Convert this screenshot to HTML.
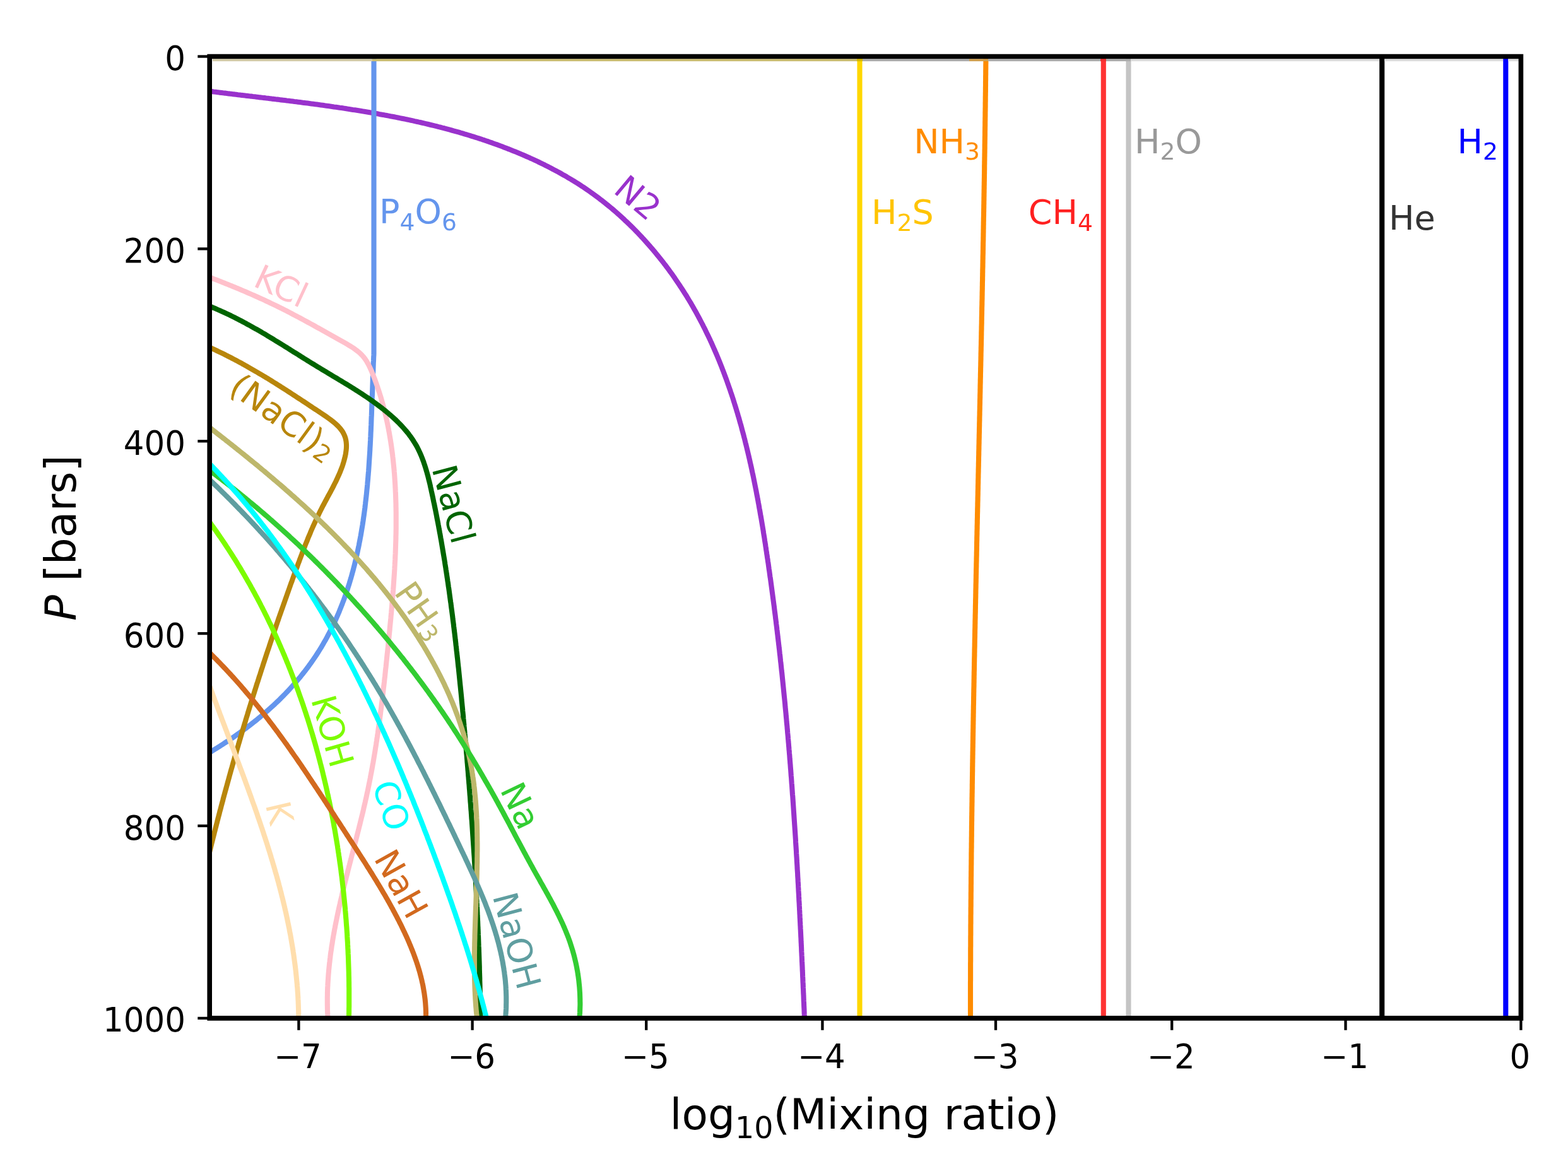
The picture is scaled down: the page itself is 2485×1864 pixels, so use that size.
<!DOCTYPE html>
<html><head><meta charset="utf-8"><title>Mixing ratio plot</title><style>html,body{margin:0;padding:0;background:#fff;overflow:hidden}svg{display:block}</style></head><body>
<svg width="2485" height="1864" viewBox="0 0 2485 1864">
<rect width="2485" height="1864" fill="#ffffff"/>
<defs><clipPath id="ax"><rect x="332.2" y="89.5" width="2078.2000000000003" height="1524.4"/></clipPath></defs>
<g clip-path="url(#ax)" fill="none" stroke-linejoin="round" stroke-linecap="butt">
<path d="M1788.5,85.0 L1788.5,1614.0" stroke="#c4c4c4" stroke-width="8.1"/>
<path d="M1748.8,85.0 L1748.8,1614.0" stroke="#ff3333" stroke-width="8.1"/>
<path d="M2190.2,85.0 L2190.2,1614.0" stroke="#000000" stroke-width="8.1"/>
<path d="M2386.3,85.0 L2386.3,1614.0" stroke="#0000ff" stroke-width="8.1"/>
<path d="M1362.5,85.0 L1362.5,1614.0" stroke="#ffd700" stroke-width="8.1"/>
<path d="M1562.5,85.0 L1562.5,88.0 L1562.4,91.0 L1562.4,94.0 L1562.4,97.0 L1562.4,100.1 L1562.3,103.1 L1562.3,106.1 L1562.3,109.1 L1562.2,112.1 L1562.2,115.1 L1562.2,118.1 L1562.1,121.1 L1562.1,124.1 L1562.1,127.1 L1562.0,130.2 L1562.0,133.2 L1562.0,136.2 L1561.9,139.2 L1561.9,142.2 L1561.9,145.2 L1561.8,148.2 L1561.8,151.2 L1561.7,154.2 L1561.7,157.2 L1561.7,160.3 L1561.6,163.3 L1561.6,166.3 L1561.6,169.3 L1561.5,172.3 L1561.5,175.3 L1561.4,178.3 L1561.4,181.3 L1561.4,184.3 L1561.3,187.3 L1561.3,190.4 L1561.2,193.4 L1561.2,196.4 L1561.2,199.4 L1561.1,202.4 L1561.1,205.4 L1561.0,208.4 L1561.0,211.4 L1561.0,214.4 L1560.9,217.4 L1560.9,220.5 L1560.8,223.5 L1560.8,226.5 L1560.7,229.5 L1560.7,232.5 L1560.7,235.5 L1560.6,238.5 L1560.6,241.5 L1560.5,244.5 L1560.5,247.5 L1560.4,250.6 L1560.4,253.6 L1560.3,256.6 L1560.3,259.6 L1560.2,262.6 L1560.2,265.6 L1560.2,268.6 L1560.1,271.6 L1560.1,274.6 L1560.0,277.6 L1560.0,280.7 L1559.9,283.7 L1559.9,286.7 L1559.8,289.7 L1559.8,292.7 L1559.7,295.7 L1559.7,298.7 L1559.6,301.7 L1559.6,304.7 L1559.5,307.7 L1559.5,310.7 L1559.4,313.8 L1559.4,316.8 L1559.3,319.8 L1559.3,322.8 L1559.2,325.8 L1559.2,328.8 L1559.1,331.8 L1559.1,334.8 L1559.0,337.8 L1559.0,340.8 L1558.9,343.9 L1558.8,346.9 L1558.8,349.9 L1558.7,352.9 L1558.7,355.9 L1558.6,358.9 L1558.6,361.9 L1558.5,364.9 L1558.5,367.9 L1558.4,370.9 L1558.4,374.0 L1558.3,377.0 L1558.3,380.0 L1558.2,383.0 L1558.1,386.0 L1558.1,389.0 L1558.0,392.0 L1558.0,395.0 L1557.9,398.0 L1557.9,401.0 L1557.8,404.1 L1557.7,407.1 L1557.7,410.1 L1557.6,413.1 L1557.6,416.1 L1557.5,419.1 L1557.5,422.1 L1557.4,425.1 L1557.3,428.1 L1557.3,431.1 L1557.2,434.1 L1557.2,437.2 L1557.1,440.2 L1557.1,443.2 L1557.0,446.2 L1556.9,449.2 L1556.9,452.2 L1556.8,455.2 L1556.8,458.2 L1556.7,461.2 L1556.6,464.2 L1556.6,467.3 L1556.5,470.3 L1556.5,473.3 L1556.4,476.3 L1556.3,479.3 L1556.3,482.3 L1556.2,485.3 L1556.1,488.3 L1556.1,491.3 L1556.0,494.3 L1556.0,497.4 L1555.9,500.4 L1555.8,503.4 L1555.8,506.4 L1555.7,509.4 L1555.7,512.4 L1555.6,515.4 L1555.5,518.4 L1555.5,521.4 L1555.4,524.4 L1555.3,527.4 L1555.3,530.5 L1555.2,533.5 L1555.2,536.5 L1555.1,539.5 L1555.0,542.5 L1555.0,545.5 L1554.9,548.5 L1554.8,551.5 L1554.8,554.5 L1554.7,557.5 L1554.6,560.6 L1554.6,563.6 L1554.5,566.6 L1554.5,569.6 L1554.4,572.6 L1554.3,575.6 L1554.3,578.6 L1554.2,581.6 L1554.1,584.6 L1554.1,587.6 L1554.0,590.7 L1553.9,593.7 L1553.9,596.7 L1553.8,599.7 L1553.7,602.7 L1553.7,605.7 L1553.6,608.7 L1553.5,611.7 L1553.5,614.7 L1553.4,617.7 L1553.4,620.7 L1553.3,623.8 L1553.2,626.8 L1553.2,629.8 L1553.1,632.8 L1553.0,635.8 L1553.0,638.8 L1552.9,641.8 L1552.8,644.8 L1552.8,647.8 L1552.7,650.8 L1552.6,653.9 L1552.6,656.9 L1552.5,659.9 L1552.4,662.9 L1552.4,665.9 L1552.3,668.9 L1552.2,671.9 L1552.2,674.9 L1552.1,677.9 L1552.0,680.9 L1552.0,683.9 L1551.9,687.0 L1551.8,690.0 L1551.8,693.0 L1551.7,696.0 L1551.6,699.0 L1551.6,702.0 L1551.5,705.0 L1551.4,708.0 L1551.4,711.0 L1551.3,714.0 L1551.2,717.1 L1551.2,720.1 L1551.1,723.1 L1551.0,726.1 L1551.0,729.1 L1550.9,732.1 L1550.8,735.1 L1550.8,738.1 L1550.7,741.1 L1550.6,744.1 L1550.6,747.1 L1550.5,750.2 L1550.4,753.2 L1550.4,756.2 L1550.3,759.2 L1550.2,762.2 L1550.2,765.2 L1550.1,768.2 L1550.0,771.2 L1550.0,774.2 L1549.9,777.2 L1549.8,780.3 L1549.8,783.3 L1549.7,786.3 L1549.6,789.3 L1549.6,792.3 L1549.5,795.3 L1549.4,798.3 L1549.4,801.3 L1549.3,804.3 L1549.2,807.3 L1549.2,810.3 L1549.1,813.4 L1549.0,816.4 L1549.0,819.4 L1548.9,822.4 L1548.8,825.4 L1548.8,828.4 L1548.7,831.4 L1548.6,834.4 L1548.6,837.4 L1548.5,840.4 L1548.4,843.5 L1548.4,846.5 L1548.3,849.5 L1548.2,852.5 L1548.2,855.5 L1548.1,858.5 L1548.0,861.5 L1548.0,864.5 L1547.9,867.5 L1547.9,870.5 L1547.8,873.6 L1547.7,876.6 L1547.7,879.6 L1547.6,882.6 L1547.5,885.6 L1547.5,888.6 L1547.4,891.6 L1547.3,894.6 L1547.3,897.6 L1547.2,900.6 L1547.1,903.6 L1547.1,906.7 L1547.0,909.7 L1546.9,912.7 L1546.9,915.7 L1546.8,918.7 L1546.8,921.7 L1546.7,924.7 L1546.6,927.7 L1546.6,930.7 L1546.5,933.7 L1546.4,936.8 L1546.4,939.8 L1546.3,942.8 L1546.3,945.8 L1546.2,948.8 L1546.1,951.8 L1546.1,954.8 L1546.0,957.8 L1545.9,960.8 L1545.9,963.8 L1545.8,966.8 L1545.8,969.9 L1545.7,972.9 L1545.6,975.9 L1545.6,978.9 L1545.5,981.9 L1545.4,984.9 L1545.4,987.9 L1545.3,990.9 L1545.3,993.9 L1545.2,996.9 L1545.1,1000.0 L1545.1,1003.0 L1545.0,1006.0 L1545.0,1009.0 L1544.9,1012.0 L1544.8,1015.0 L1544.8,1018.0 L1544.7,1021.0 L1544.7,1024.0 L1544.6,1027.0 L1544.5,1030.1 L1544.5,1033.1 L1544.4,1036.1 L1544.4,1039.1 L1544.3,1042.1 L1544.2,1045.1 L1544.2,1048.1 L1544.1,1051.1 L1544.1,1054.1 L1544.0,1057.1 L1544.0,1060.1 L1543.9,1063.2 L1543.8,1066.2 L1543.8,1069.2 L1543.7,1072.2 L1543.7,1075.2 L1543.6,1078.2 L1543.6,1081.2 L1543.5,1084.2 L1543.5,1087.2 L1543.4,1090.2 L1543.3,1093.3 L1543.3,1096.3 L1543.2,1099.3 L1543.2,1102.3 L1543.1,1105.3 L1543.1,1108.3 L1543.0,1111.3 L1543.0,1114.3 L1542.9,1117.3 L1542.8,1120.3 L1542.8,1123.4 L1542.7,1126.4 L1542.7,1129.4 L1542.6,1132.4 L1542.6,1135.4 L1542.5,1138.4 L1542.5,1141.4 L1542.4,1144.4 L1542.4,1147.4 L1542.3,1150.4 L1542.3,1153.4 L1542.2,1156.5 L1542.2,1159.5 L1542.1,1162.5 L1542.1,1165.5 L1542.0,1168.5 L1542.0,1171.5 L1541.9,1174.5 L1541.9,1177.5 L1541.8,1180.5 L1541.8,1183.5 L1541.7,1186.6 L1541.7,1189.6 L1541.6,1192.6 L1541.6,1195.6 L1541.5,1198.6 L1541.5,1201.6 L1541.4,1204.6 L1541.4,1207.6 L1541.3,1210.6 L1541.3,1213.6 L1541.2,1216.7 L1541.2,1219.7 L1541.2,1222.7 L1541.1,1225.7 L1541.1,1228.7 L1541.0,1231.7 L1541.0,1234.7 L1540.9,1237.7 L1540.9,1240.7 L1540.8,1243.7 L1540.8,1246.8 L1540.8,1249.8 L1540.7,1252.8 L1540.7,1255.8 L1540.6,1258.8 L1540.6,1261.8 L1540.5,1264.8 L1540.5,1267.8 L1540.5,1270.8 L1540.4,1273.8 L1540.4,1276.9 L1540.3,1279.9 L1540.3,1282.9 L1540.3,1285.9 L1540.2,1288.9 L1540.2,1291.9 L1540.1,1294.9 L1540.1,1297.9 L1540.1,1300.9 L1540.0,1303.9 L1540.0,1307.0 L1539.9,1310.0 L1539.9,1313.0 L1539.9,1316.0 L1539.8,1319.0 L1539.8,1322.0 L1539.8,1325.0 L1539.7,1328.0 L1539.7,1331.0 L1539.7,1334.0 L1539.6,1337.1 L1539.6,1340.1 L1539.6,1343.1 L1539.5,1346.1 L1539.5,1349.1 L1539.4,1352.1 L1539.4,1355.1 L1539.4,1358.1 L1539.4,1361.1 L1539.3,1364.1 L1539.3,1367.2 L1539.3,1370.2 L1539.2,1373.2 L1539.2,1376.2 L1539.2,1379.2 L1539.1,1382.2 L1539.1,1385.2 L1539.1,1388.2 L1539.0,1391.2 L1539.0,1394.2 L1539.0,1397.3 L1539.0,1400.3 L1538.9,1403.3 L1538.9,1406.3 L1538.9,1409.3 L1538.9,1412.3 L1538.8,1415.3 L1538.8,1418.3 L1538.8,1421.3 L1538.8,1424.3 L1538.7,1427.4 L1538.7,1430.4 L1538.7,1433.4 L1538.7,1436.4 L1538.6,1439.4 L1538.6,1442.4 L1538.6,1445.4 L1538.6,1448.4 L1538.5,1451.4 L1538.5,1454.4 L1538.5,1457.5 L1538.5,1460.5 L1538.5,1463.5 L1538.4,1466.5 L1538.4,1469.5 L1538.4,1472.5 L1538.4,1475.5 L1538.4,1478.5 L1538.4,1481.5 L1538.3,1484.6 L1538.3,1487.6 L1538.3,1490.6 L1538.3,1493.6 L1538.3,1496.6 L1538.3,1499.6 L1538.2,1502.6 L1538.2,1505.6 L1538.2,1508.6 L1538.2,1511.6 L1538.2,1514.7 L1538.2,1517.7 L1538.2,1520.7 L1538.2,1523.7 L1538.1,1526.7 L1538.1,1529.7 L1538.1,1532.7 L1538.1,1535.7 L1538.1,1538.7 L1538.1,1541.7 L1538.1,1544.8 L1538.1,1547.8 L1538.1,1550.8 L1538.1,1553.8 L1538.0,1556.8 L1538.0,1559.8 L1538.0,1562.8 L1538.0,1565.8 L1538.0,1568.8 L1538.0,1571.9 L1538.0,1574.9 L1538.0,1577.9 L1538.0,1580.9 L1538.0,1583.9 L1538.0,1586.9 L1538.0,1589.9 L1538.0,1592.9 L1538.0,1595.9 L1538.0,1598.9 L1538.0,1602.0 L1538.0,1605.0 L1538.0,1608.0 L1538.0,1611.0 L1538.0,1614.0" stroke="#ff8c00" stroke-width="8.1"/>
<path d="M330.0,144.3 L332.9,144.7 L335.9,145.1 L338.8,145.5 L341.8,145.8 L344.7,146.2 L347.6,146.6 L350.6,146.9 L353.5,147.3 L356.5,147.6 L359.4,148.0 L362.4,148.4 L365.3,148.7 L368.3,149.1 L371.3,149.4 L374.2,149.8 L377.2,150.2 L380.1,150.5 L383.1,150.9 L386.1,151.2 L389.0,151.6 L392.0,151.9 L395.0,152.3 L398.0,152.6 L400.9,153.0 L403.9,153.3 L406.9,153.7 L409.8,154.1 L412.8,154.4 L415.8,154.8 L418.8,155.1 L421.8,155.5 L424.7,155.8 L427.7,156.2 L430.7,156.6 L433.7,156.9 L436.7,157.3 L439.7,157.6 L442.7,158.0 L445.6,158.4 L448.6,158.7 L451.6,159.1 L454.6,159.5 L457.6,159.8 L460.6,160.2 L463.6,160.6 L466.6,161.0 L469.6,161.3 L472.5,161.7 L475.5,162.1 L478.5,162.5 L481.5,162.9 L484.5,163.2 L487.5,163.6 L490.5,164.0 L493.5,164.4 L496.5,164.8 L499.5,165.2 L502.5,165.6 L505.5,166.0 L508.5,166.4 L511.5,166.8 L514.5,167.3 L517.4,167.7 L520.4,168.1 L523.4,168.5 L526.4,168.9 L529.4,169.4 L532.4,169.8 L535.4,170.2 L538.4,170.7 L541.4,171.1 L544.4,171.6 L547.4,172.0 L550.4,172.5 L553.3,172.9 L556.3,173.4 L559.3,173.9 L562.3,174.3 L565.3,174.8 L568.3,175.3 L571.3,175.8 L574.2,176.3 L577.2,176.7 L580.2,177.2 L583.2,177.7 L586.2,178.3 L589.2,178.8 L592.1,179.3 L595.1,179.8 L598.1,180.3 L601.1,180.9 L604.0,181.4 L607.0,181.9 L610.0,182.5 L612.9,183.0 L615.9,183.6 L618.9,184.2 L621.9,184.7 L624.8,185.3 L627.8,185.9 L630.7,186.5 L633.7,187.1 L636.7,187.7 L639.6,188.3 L642.6,188.9 L645.5,189.5 L648.5,190.1 L651.4,190.8 L654.4,191.4 L657.3,192.1 L660.3,192.7 L663.2,193.4 L666.1,194.0 L669.1,194.7 L672.0,195.4 L675.0,196.1 L677.9,196.8 L680.8,197.5 L683.8,198.2 L686.7,198.9 L689.6,199.6 L692.5,200.3 L695.4,201.1 L698.4,201.8 L701.3,202.6 L704.2,203.3 L707.1,204.1 L710.0,204.9 L712.9,205.7 L715.8,206.5 L718.7,207.3 L721.6,208.1 L724.5,208.9 L727.4,209.7 L730.3,210.6 L733.2,211.4 L736.1,212.3 L738.9,213.1 L741.8,214.0 L744.7,214.9 L747.6,215.8 L750.4,216.7 L753.3,217.6 L756.2,218.5 L759.0,219.4 L761.9,220.3 L764.7,221.3 L767.6,222.2 L770.4,223.2 L773.3,224.2 L776.1,225.2 L779.0,226.2 L781.8,227.2 L784.6,228.2 L787.5,229.2 L790.3,230.2 L793.1,231.3 L795.9,232.3 L798.7,233.4 L801.5,234.5 L804.3,235.6 L807.1,236.6 L809.9,237.8 L812.7,238.9 L815.5,240.0 L818.3,241.1 L821.1,242.3 L823.9,243.4 L826.6,244.6 L829.4,245.8 L832.2,247.0 L834.9,248.2 L837.7,249.4 L840.4,250.7 L843.2,251.9 L845.9,253.1 L848.6,254.4 L851.4,255.7 L854.1,257.0 L856.8,258.3 L859.5,259.6 L862.2,260.9 L864.9,262.3 L867.6,263.6 L870.2,265.0 L872.9,266.4 L875.6,267.8 L878.2,269.2 L880.9,270.6 L883.5,272.0 L886.1,273.4 L888.8,274.9 L891.4,276.4 L894.0,277.9 L896.6,279.3 L899.2,280.9 L901.8,282.4 L904.3,283.9 L906.9,285.5 L909.5,287.0 L912.0,288.6 L914.5,290.2 L917.1,291.8 L919.6,293.4 L922.1,295.1 L924.6,296.7 L927.1,298.4 L929.6,300.1 L932.0,301.8 L934.5,303.5 L936.9,305.2 L939.4,307.0 L941.8,308.7 L944.2,310.5 L946.6,312.3 L949.0,314.1 L951.4,315.9 L953.8,317.7 L956.1,319.6 L958.5,321.4 L960.8,323.3 L963.2,325.2 L965.5,327.1 L967.8,329.0 L970.1,330.9 L972.4,332.9 L974.6,334.8 L976.9,336.8 L979.1,338.8 L981.4,340.8 L983.6,342.8 L985.8,344.8 L988.0,346.8 L990.2,348.9 L992.4,350.9 L994.6,353.0 L996.8,355.1 L998.9,357.2 L1001.1,359.3 L1003.2,361.4 L1005.3,363.5 L1007.4,365.7 L1009.5,367.8 L1011.6,370.0 L1013.7,372.2 L1015.7,374.4 L1017.8,376.6 L1019.8,378.8 L1021.8,381.0 L1023.8,383.2 L1025.8,385.5 L1027.8,387.7 L1029.8,390.0 L1031.8,392.3 L1033.7,394.5 L1035.7,396.8 L1037.6,399.1 L1039.5,401.5 L1041.4,403.8 L1043.3,406.1 L1045.2,408.5 L1047.1,410.8 L1049.0,413.2 L1050.8,415.5 L1052.6,417.9 L1054.5,420.3 L1056.3,422.7 L1058.1,425.1 L1059.9,427.5 L1061.6,430.0 L1063.4,432.4 L1065.2,434.8 L1066.9,437.3 L1068.6,439.7 L1070.3,442.2 L1072.0,444.7 L1073.7,447.2 L1075.4,449.7 L1077.1,452.2 L1078.7,454.7 L1080.4,457.2 L1082.0,459.7 L1083.6,462.2 L1085.2,464.8 L1086.8,467.3 L1088.4,469.8 L1089.9,472.4 L1091.5,475.0 L1093.0,477.5 L1094.6,480.1 L1096.1,482.7 L1097.6,485.3 L1099.1,487.9 L1100.5,490.5 L1102.0,493.1 L1103.5,495.7 L1104.9,498.3 L1106.3,500.9 L1107.7,503.5 L1109.1,506.2 L1110.5,508.8 L1111.9,511.5 L1113.3,514.1 L1114.6,516.8 L1116.0,519.4 L1117.3,522.1 L1118.6,524.8 L1119.9,527.5 L1121.2,530.1 L1122.5,532.8 L1123.8,535.5 L1125.1,538.2 L1126.3,540.9 L1127.6,543.6 L1128.8,546.4 L1130.0,549.1 L1131.2,551.8 L1132.4,554.5 L1133.6,557.3 L1134.8,560.0 L1136.0,562.8 L1137.1,565.5 L1138.3,568.3 L1139.4,571.0 L1140.5,573.8 L1141.6,576.6 L1142.7,579.3 L1143.8,582.1 L1144.9,584.9 L1146.0,587.7 L1147.0,590.5 L1148.1,593.3 L1149.1,596.1 L1150.2,598.9 L1151.2,601.7 L1152.2,604.5 L1153.2,607.3 L1154.2,610.1 L1155.2,613.0 L1156.2,615.8 L1157.2,618.6 L1158.1,621.5 L1159.1,624.3 L1160.0,627.1 L1161.0,630.0 L1161.9,632.8 L1162.8,635.7 L1163.7,638.6 L1164.6,641.4 L1165.5,644.3 L1166.4,647.2 L1167.2,650.0 L1168.1,652.9 L1169.0,655.8 L1169.8,658.7 L1170.7,661.6 L1171.5,664.4 L1172.3,667.3 L1173.1,670.2 L1174.0,673.1 L1174.8,676.0 L1175.5,678.9 L1176.3,681.8 L1177.1,684.8 L1177.9,687.7 L1178.7,690.6 L1179.4,693.5 L1180.2,696.4 L1180.9,699.4 L1181.6,702.3 L1182.4,705.2 L1183.1,708.1 L1183.8,711.1 L1184.5,714.0 L1185.2,716.9 L1185.9,719.9 L1186.6,722.8 L1187.3,725.8 L1188.0,728.7 L1188.6,731.7 L1189.3,734.6 L1190.0,737.6 L1190.6,740.5 L1191.3,743.5 L1191.9,746.5 L1192.5,749.4 L1193.2,752.4 L1193.8,755.3 L1194.4,758.3 L1195.0,761.3 L1195.6,764.3 L1196.2,767.2 L1196.8,770.2 L1197.4,773.2 L1198.0,776.2 L1198.6,779.1 L1199.1,782.1 L1199.7,785.1 L1200.3,788.1 L1200.8,791.1 L1201.4,794.0 L1201.9,797.0 L1202.5,800.0 L1203.0,803.0 L1203.5,806.0 L1204.1,809.0 L1204.6,812.0 L1205.1,815.0 L1205.6,817.9 L1206.2,820.9 L1206.7,823.9 L1207.2,826.9 L1207.7,829.9 L1208.2,832.9 L1208.7,835.9 L1209.2,838.9 L1209.7,841.9 L1210.1,844.9 L1210.6,847.9 L1211.1,850.9 L1211.6,853.9 L1212.0,856.9 L1212.5,859.9 L1213.0,862.9 L1213.4,865.9 L1213.9,868.9 L1214.3,871.9 L1214.8,874.9 L1215.2,877.9 L1215.7,880.9 L1216.1,883.9 L1216.6,886.9 L1217.0,889.8 L1217.5,892.8 L1217.9,895.8 L1218.3,898.8 L1218.7,901.8 L1219.2,904.8 L1219.6,907.8 L1220.0,910.8 L1220.4,913.8 L1220.9,916.8 L1221.3,919.8 L1221.7,922.8 L1222.1,925.8 L1222.5,928.8 L1222.9,931.8 L1223.3,934.7 L1223.7,937.7 L1224.1,940.7 L1224.5,943.7 L1224.9,946.7 L1225.3,949.7 L1225.7,952.7 L1226.1,955.7 L1226.5,958.7 L1226.9,961.6 L1227.2,964.6 L1227.6,967.6 L1228.0,970.6 L1228.4,973.6 L1228.8,976.6 L1229.1,979.6 L1229.5,982.5 L1229.9,985.5 L1230.2,988.5 L1230.6,991.5 L1231.0,994.5 L1231.3,997.5 L1231.7,1000.5 L1232.0,1003.4 L1232.4,1006.4 L1232.7,1009.4 L1233.1,1012.4 L1233.4,1015.4 L1233.8,1018.3 L1234.1,1021.3 L1234.5,1024.3 L1234.8,1027.3 L1235.2,1030.3 L1235.5,1033.3 L1235.8,1036.2 L1236.2,1039.2 L1236.5,1042.2 L1236.8,1045.2 L1237.1,1048.2 L1237.5,1051.1 L1237.8,1054.1 L1238.1,1057.1 L1238.4,1060.1 L1238.7,1063.1 L1239.1,1066.0 L1239.4,1069.0 L1239.7,1072.0 L1240.0,1075.0 L1240.3,1078.0 L1240.6,1080.9 L1240.9,1083.9 L1241.2,1086.9 L1241.5,1089.9 L1241.8,1092.9 L1242.1,1095.8 L1242.4,1098.8 L1242.7,1101.8 L1243.0,1104.8 L1243.3,1107.7 L1243.6,1110.7 L1243.9,1113.7 L1244.2,1116.7 L1244.4,1119.7 L1244.7,1122.6 L1245.0,1125.6 L1245.3,1128.6 L1245.6,1131.6 L1245.8,1134.5 L1246.1,1137.5 L1246.4,1140.5 L1246.6,1143.5 L1246.9,1146.5 L1247.2,1149.4 L1247.5,1152.4 L1247.7,1155.4 L1248.0,1158.4 L1248.2,1161.3 L1248.5,1164.3 L1248.8,1167.3 L1249.0,1170.3 L1249.3,1173.3 L1249.5,1176.2 L1249.8,1179.2 L1250.0,1182.2 L1250.3,1185.2 L1250.5,1188.1 L1250.8,1191.1 L1251.0,1194.1 L1251.3,1197.1 L1251.5,1200.1 L1251.7,1203.0 L1252.0,1206.0 L1252.2,1209.0 L1252.5,1212.0 L1252.7,1214.9 L1252.9,1217.9 L1253.2,1220.9 L1253.4,1223.9 L1253.6,1226.9 L1253.8,1229.8 L1254.1,1232.8 L1254.3,1235.8 L1254.5,1238.8 L1254.7,1241.8 L1255.0,1244.7 L1255.2,1247.7 L1255.4,1250.7 L1255.6,1253.7 L1255.8,1256.7 L1256.0,1259.6 L1256.3,1262.6 L1256.5,1265.6 L1256.7,1268.6 L1256.9,1271.6 L1257.1,1274.6 L1257.3,1277.5 L1257.5,1280.5 L1257.7,1283.5 L1257.9,1286.5 L1258.1,1289.5 L1258.3,1292.4 L1258.5,1295.4 L1258.7,1298.4 L1258.9,1301.4 L1259.1,1304.4 L1259.3,1307.4 L1259.5,1310.3 L1259.7,1313.3 L1259.9,1316.3 L1260.1,1319.3 L1260.3,1322.3 L1260.5,1325.3 L1260.7,1328.3 L1260.9,1331.2 L1261.0,1334.2 L1261.2,1337.2 L1261.4,1340.2 L1261.6,1343.2 L1261.8,1346.2 L1262.0,1349.2 L1262.1,1352.2 L1262.3,1355.2 L1262.5,1358.1 L1262.7,1361.1 L1262.8,1364.1 L1263.0,1367.1 L1263.2,1370.1 L1263.4,1373.1 L1263.5,1376.1 L1263.7,1379.1 L1263.9,1382.1 L1264.1,1385.1 L1264.2,1388.1 L1264.4,1391.1 L1264.6,1394.0 L1264.7,1397.0 L1264.9,1400.0 L1265.1,1403.0 L1265.2,1406.0 L1265.4,1409.0 L1265.5,1412.0 L1265.7,1415.0 L1265.9,1418.0 L1266.0,1421.0 L1266.2,1424.0 L1266.3,1427.0 L1266.5,1430.0 L1266.7,1433.0 L1266.8,1436.0 L1267.0,1439.0 L1267.1,1442.0 L1267.3,1445.0 L1267.4,1448.0 L1267.6,1451.0 L1267.7,1454.0 L1267.9,1457.0 L1268.0,1460.0 L1268.2,1463.0 L1268.3,1466.0 L1268.5,1469.0 L1268.6,1472.0 L1268.8,1475.0 L1268.9,1478.1 L1269.1,1481.1 L1269.2,1484.1 L1269.4,1487.1 L1269.5,1490.1 L1269.6,1493.1 L1269.8,1496.1 L1269.9,1499.1 L1270.1,1502.1 L1270.2,1505.1 L1270.3,1508.2 L1270.5,1511.2 L1270.6,1514.2 L1270.8,1517.2 L1270.9,1520.2 L1271.0,1523.2 L1271.2,1526.2 L1271.3,1529.3 L1271.5,1532.3 L1271.6,1535.3 L1271.7,1538.3 L1271.9,1541.3 L1272.0,1544.4 L1272.1,1547.4 L1272.3,1550.4 L1272.4,1553.4 L1272.5,1556.4 L1272.7,1559.5 L1272.8,1562.5 L1272.9,1565.5 L1273.1,1568.5 L1273.2,1571.6 L1273.3,1574.6 L1273.5,1577.6 L1273.6,1580.6 L1273.7,1583.7 L1273.8,1586.7 L1274.0,1589.7 L1274.1,1592.8 L1274.2,1595.8 L1274.4,1598.8 L1274.5,1601.9 L1274.6,1604.9 L1274.7,1607.9 L1274.9,1611.0 L1275.0,1614.0" stroke="#9932cc" stroke-width="8.1"/>
<path d="M592.5,85.0 L592.5,560.0 L592.5,560.0 L592.4,562.9 L592.2,565.9 L592.1,568.8 L592.0,571.7 L591.8,574.7 L591.7,577.6 L591.6,580.6 L591.5,583.5 L591.4,586.5 L591.2,589.5 L591.1,592.4 L591.0,595.4 L590.9,598.4 L590.8,601.4 L590.7,604.3 L590.6,607.3 L590.5,610.3 L590.4,613.3 L590.3,616.3 L590.2,619.3 L590.1,622.3 L590.0,625.3 L589.8,628.3 L589.7,631.3 L589.6,634.3 L589.5,637.3 L589.4,640.4 L589.3,643.4 L589.2,646.4 L589.1,649.4 L589.0,652.5 L588.9,655.5 L588.8,658.5 L588.6,661.5 L588.5,664.6 L588.4,667.6 L588.3,670.6 L588.2,673.7 L588.0,676.7 L587.9,679.8 L587.8,682.8 L587.6,685.8 L587.5,688.9 L587.4,691.9 L587.2,695.0 L587.1,698.0 L586.9,701.1 L586.8,704.1 L586.6,707.2 L586.4,710.2 L586.3,713.3 L586.1,716.3 L585.9,719.4 L585.7,722.4 L585.5,725.5 L585.3,728.5 L585.1,731.6 L584.9,734.6 L584.7,737.7 L584.5,740.7 L584.3,743.8 L584.1,746.8 L583.8,749.8 L583.6,752.9 L583.3,755.9 L583.1,759.0 L582.8,762.0 L582.5,765.1 L582.3,768.1 L582.0,771.1 L581.7,774.2 L581.4,777.2 L581.1,780.3 L580.8,783.3 L580.5,786.3 L580.1,789.4 L579.8,792.4 L579.4,795.4 L579.1,798.4 L578.7,801.5 L578.4,804.5 L578.0,807.5 L577.6,810.5 L577.2,813.5 L576.8,816.5 L576.3,819.6 L575.9,822.6 L575.5,825.6 L575.0,828.6 L574.6,831.6 L574.1,834.6 L573.6,837.5 L573.1,840.5 L572.6,843.5 L572.1,846.5 L571.6,849.5 L571.0,852.5 L570.5,855.4 L569.9,858.4 L569.3,861.4 L568.8,864.3 L568.2,867.3 L567.5,870.2 L566.9,873.2 L566.3,876.1 L565.6,879.1 L565.0,882.0 L564.3,884.9 L563.6,887.9 L562.9,890.8 L562.2,893.7 L561.5,896.6 L560.7,899.5 L560.0,902.4 L559.2,905.3 L558.4,908.2 L557.6,911.1 L556.8,914.0 L556.0,916.8 L555.1,919.7 L554.3,922.6 L553.4,925.4 L552.5,928.3 L551.6,931.1 L550.7,934.0 L549.7,936.8 L548.8,939.7 L547.8,942.5 L546.8,945.3 L545.8,948.1 L544.8,950.9 L543.7,953.7 L542.7,956.5 L541.6,959.3 L540.5,962.1 L539.4,964.8 L538.3,967.6 L537.2,970.4 L536.0,973.1 L534.8,975.9 L533.6,978.6 L532.4,981.3 L531.2,984.1 L529.9,986.8 L528.7,989.5 L527.4,992.2 L526.1,994.9 L524.7,997.5 L523.4,1000.2 L522.0,1002.9 L520.6,1005.5 L519.2,1008.2 L517.8,1010.8 L516.4,1013.4 L514.9,1016.0 L513.4,1018.6 L511.9,1021.2 L510.4,1023.8 L508.9,1026.4 L507.3,1028.9 L505.7,1031.5 L504.1,1034.0 L502.5,1036.5 L500.9,1039.0 L499.2,1041.5 L497.5,1044.0 L495.8,1046.5 L494.1,1048.9 L492.4,1051.4 L490.6,1053.8 L488.8,1056.3 L487.0,1058.7 L485.2,1061.1 L483.4,1063.5 L481.5,1065.8 L479.7,1068.2 L477.8,1070.5 L475.9,1072.9 L474.0,1075.2 L472.0,1077.5 L470.1,1079.8 L468.1,1082.1 L466.1,1084.4 L464.1,1086.7 L462.1,1088.9 L460.1,1091.1 L458.0,1093.4 L456.0,1095.6 L453.9,1097.8 L451.8,1100.0 L449.7,1102.1 L447.6,1104.3 L445.4,1106.4 L443.3,1108.6 L441.1,1110.7 L438.9,1112.8 L436.7,1114.9 L434.5,1117.0 L432.3,1119.0 L430.0,1121.1 L427.8,1123.1 L425.5,1125.1 L423.2,1127.1 L420.9,1129.1 L418.6,1131.1 L416.3,1133.1 L414.0,1135.0 L411.7,1137.0 L409.3,1138.9 L407.0,1140.8 L404.6,1142.7 L402.2,1144.6 L399.8,1146.5 L397.4,1148.4 L395.0,1150.2 L392.6,1152.1 L390.2,1153.9 L387.7,1155.7 L385.3,1157.5 L382.8,1159.3 L380.4,1161.1 L377.9,1162.8 L375.4,1164.6 L373.0,1166.3 L370.5,1168.1 L368.0,1169.8 L365.5,1171.5 L363.0,1173.2 L360.5,1174.8 L357.9,1176.5 L355.4,1178.2 L352.9,1179.8 L350.4,1181.4 L347.8,1183.1 L345.3,1184.7 L342.8,1186.3 L340.2,1187.8 L337.7,1189.4 L335.1,1191.0 L332.6,1192.5 L330.0,1194.1" stroke="#6495ed" stroke-width="8.1"/>
<path d="M330.0,438.7 L332.8,439.8 L335.7,440.9 L338.5,442.0 L341.3,443.0 L344.1,444.1 L347.0,445.2 L349.8,446.3 L352.6,447.4 L355.4,448.5 L358.2,449.7 L361.0,450.8 L363.8,451.9 L366.6,453.0 L369.4,454.2 L372.1,455.3 L374.9,456.5 L377.7,457.6 L380.5,458.8 L383.2,459.9 L386.0,461.1 L388.8,462.3 L391.5,463.5 L394.3,464.7 L397.0,465.9 L399.8,467.1 L402.5,468.3 L405.2,469.5 L408.0,470.7 L410.7,472.0 L413.4,473.2 L416.2,474.4 L418.9,475.7 L421.6,477.0 L424.3,478.2 L427.0,479.5 L429.7,480.8 L432.4,482.1 L435.1,483.4 L437.8,484.7 L440.5,486.0 L443.2,487.3 L445.9,488.7 L448.6,490.0 L451.2,491.4 L453.9,492.7 L456.6,494.1 L459.3,495.5 L461.9,496.9 L464.6,498.3 L467.2,499.7 L469.9,501.1 L472.6,502.5 L475.2,503.9 L477.9,505.3 L480.5,506.7 L483.2,508.2 L485.8,509.6 L488.5,511.1 L491.1,512.5 L493.8,514.0 L496.4,515.4 L499.1,516.9 L501.7,518.4 L504.4,519.9 L507.0,521.3 L509.7,522.8 L512.3,524.3 L515.0,525.8 L517.6,527.3 L520.3,528.8 L523.0,530.3 L525.6,531.8 L528.3,533.3 L531.0,534.8 L533.6,536.3 L536.3,537.8 L539.0,539.3 L541.7,540.8 L544.4,542.3 L547.1,543.8 L549.7,545.3 L552.4,546.9 L555.0,548.5 L557.6,550.1 L560.1,551.7 L562.5,553.4 L564.9,555.2 L567.2,557.0 L569.5,558.9 L571.6,560.9 L573.6,562.9 L575.6,565.1 L577.4,567.3 L579.1,569.7 L580.7,572.1 L582.1,574.6 L583.6,577.1 L584.9,579.7 L586.2,582.4 L587.4,585.1 L588.6,587.8 L589.7,590.5 L590.8,593.3 L591.9,596.0 L593.0,598.8 L594.1,601.6 L595.1,604.4 L596.1,607.2 L597.1,610.0 L598.1,612.8 L599.0,615.6 L600.0,618.4 L600.9,621.2 L601.8,624.1 L602.7,626.9 L603.6,629.8 L604.4,632.6 L605.2,635.5 L606.0,638.4 L606.8,641.2 L607.6,644.1 L608.4,647.0 L609.1,649.9 L609.8,652.8 L610.5,655.7 L611.2,658.7 L611.9,661.6 L612.5,664.5 L613.2,667.4 L613.8,670.4 L614.4,673.3 L615.0,676.3 L615.6,679.2 L616.1,682.2 L616.7,685.1 L617.2,688.1 L617.7,691.1 L618.2,694.0 L618.7,697.0 L619.2,700.0 L619.6,703.0 L620.1,706.0 L620.5,708.9 L620.9,711.9 L621.3,714.9 L621.7,717.9 L622.1,720.9 L622.4,724.0 L622.8,727.0 L623.1,730.0 L623.4,733.0 L623.7,736.0 L624.0,739.0 L624.3,742.0 L624.6,745.1 L624.8,748.1 L625.1,751.1 L625.3,754.1 L625.5,757.2 L625.7,760.2 L625.9,763.2 L626.1,766.3 L626.3,769.3 L626.4,772.3 L626.6,775.4 L626.7,778.4 L626.9,781.4 L627.0,784.4 L627.1,787.5 L627.2,790.5 L627.3,793.5 L627.4,796.6 L627.5,799.6 L627.5,802.6 L627.6,805.7 L627.6,808.7 L627.7,811.7 L627.7,814.8 L627.7,817.8 L627.7,820.8 L627.7,823.8 L627.7,826.8 L627.7,829.9 L627.7,832.9 L627.7,835.9 L627.7,838.9 L627.6,841.9 L627.6,844.9 L627.5,848.0 L627.4,851.0 L627.4,854.0 L627.3,857.0 L627.2,860.0 L627.1,863.0 L627.0,866.0 L626.9,869.0 L626.8,872.0 L626.7,875.0 L626.6,878.0 L626.4,881.0 L626.3,884.0 L626.2,887.0 L626.0,890.0 L625.8,893.0 L625.7,896.0 L625.5,899.0 L625.4,902.0 L625.2,904.9 L625.0,907.9 L624.8,910.9 L624.6,913.9 L624.4,916.9 L624.2,919.9 L624.0,922.9 L623.8,925.9 L623.6,928.9 L623.4,931.8 L623.2,934.8 L622.9,937.8 L622.7,940.8 L622.5,943.8 L622.2,946.8 L622.0,949.8 L621.7,952.7 L621.5,955.7 L621.2,958.7 L621.0,961.7 L620.7,964.7 L620.4,967.6 L620.2,970.6 L619.9,973.6 L619.6,976.6 L619.4,979.6 L619.1,982.6 L618.8,985.5 L618.5,988.5 L618.2,991.5 L617.9,994.5 L617.7,997.5 L617.4,1000.5 L617.1,1003.4 L616.8,1006.4 L616.5,1009.4 L616.2,1012.4 L615.9,1015.4 L615.6,1018.4 L615.3,1021.4 L615.0,1024.3 L614.7,1027.3 L614.4,1030.3 L614.1,1033.3 L613.7,1036.3 L613.4,1039.3 L613.1,1042.3 L612.8,1045.3 L612.5,1048.2 L612.2,1051.2 L611.9,1054.2 L611.6,1057.2 L611.2,1060.2 L610.9,1063.2 L610.6,1066.2 L610.3,1069.2 L610.0,1072.2 L609.6,1075.2 L609.3,1078.2 L609.0,1081.2 L608.6,1084.1 L608.3,1087.1 L607.9,1090.1 L607.6,1093.1 L607.3,1096.1 L606.9,1099.1 L606.6,1102.1 L606.2,1105.1 L605.8,1108.1 L605.5,1111.1 L605.1,1114.1 L604.7,1117.1 L604.4,1120.1 L604.0,1123.0 L603.6,1126.0 L603.2,1129.0 L602.9,1132.0 L602.5,1135.0 L602.1,1138.0 L601.7,1141.0 L601.3,1144.0 L600.9,1147.0 L600.5,1149.9 L600.0,1152.9 L599.6,1155.9 L599.2,1158.9 L598.8,1161.9 L598.3,1164.9 L597.9,1167.9 L597.4,1170.8 L597.0,1173.8 L596.5,1176.8 L596.1,1179.8 L595.6,1182.8 L595.1,1185.7 L594.7,1188.7 L594.2,1191.7 L593.7,1194.7 L593.2,1197.6 L592.7,1200.6 L592.2,1203.6 L591.7,1206.6 L591.2,1209.5 L590.6,1212.5 L590.1,1215.5 L589.6,1218.4 L589.0,1221.4 L588.5,1224.4 L587.9,1227.3 L587.3,1230.3 L586.8,1233.2 L586.2,1236.2 L585.6,1239.2 L585.0,1242.1 L584.4,1245.1 L583.8,1248.0 L583.2,1251.0 L582.6,1253.9 L581.9,1256.9 L581.3,1259.8 L580.7,1262.8 L580.0,1265.7 L579.3,1268.6 L578.7,1271.6 L578.0,1274.5 L577.3,1277.5 L576.6,1280.4 L576.0,1283.3 L575.3,1286.3 L574.6,1289.2 L573.9,1292.1 L573.1,1295.1 L572.4,1298.0 L571.7,1300.9 L571.0,1303.8 L570.3,1306.8 L569.5,1309.7 L568.8,1312.6 L568.1,1315.6 L567.3,1318.5 L566.6,1321.4 L565.8,1324.3 L565.1,1327.2 L564.3,1330.2 L563.6,1333.1 L562.8,1336.0 L562.1,1338.9 L561.3,1341.8 L560.6,1344.8 L559.8,1347.7 L559.1,1350.6 L558.3,1353.5 L557.5,1356.4 L556.8,1359.3 L556.0,1362.3 L555.3,1365.2 L554.5,1368.1 L553.8,1371.0 L553.0,1373.9 L552.3,1376.8 L551.5,1379.8 L550.8,1382.7 L550.1,1385.6 L549.3,1388.5 L548.6,1391.4 L547.9,1394.3 L547.1,1397.3 L546.4,1400.2 L545.7,1403.1 L545.0,1406.0 L544.3,1408.9 L543.5,1411.9 L542.8,1414.8 L542.1,1417.7 L541.5,1420.6 L540.8,1423.6 L540.1,1426.5 L539.4,1429.4 L538.8,1432.3 L538.1,1435.3 L537.4,1438.2 L536.8,1441.1 L536.2,1444.0 L535.5,1447.0 L534.9,1449.9 L534.3,1452.8 L533.7,1455.8 L533.1,1458.7 L532.5,1461.6 L531.9,1464.6 L531.3,1467.5 L530.8,1470.5 L530.2,1473.4 L529.7,1476.3 L529.2,1479.3 L528.6,1482.2 L528.1,1485.2 L527.6,1488.1 L527.1,1491.1 L526.7,1494.0 L526.2,1497.0 L525.7,1499.9 L525.3,1502.9 L524.9,1505.9 L524.4,1508.8 L524.0,1511.8 L523.6,1514.8 L523.3,1517.7 L522.9,1520.7 L522.6,1523.7 L522.2,1526.6 L521.9,1529.6 L521.6,1532.6 L521.3,1535.6 L521.0,1538.6 L520.8,1541.5 L520.5,1544.5 L520.3,1547.5 L520.1,1550.5 L519.9,1553.5 L519.7,1556.5 L519.5,1559.5 L519.4,1562.5 L519.2,1565.5 L519.1,1568.5 L519.0,1571.5 L518.9,1574.5 L518.9,1577.6 L518.8,1580.6 L518.8,1583.6 L518.8,1586.6 L518.8,1589.7 L518.8,1592.7 L518.9,1595.7 L518.9,1598.8 L519.0,1601.8 L519.1,1604.8 L519.3,1607.9 L519.4,1610.9 L519.6,1614.0" stroke="#ffc0cb" stroke-width="8.1"/>
<path d="M330.0,484.5 L332.9,485.6 L335.7,486.8 L338.6,488.0 L341.4,489.1 L344.2,490.4 L347.0,491.6 L349.8,492.8 L352.6,494.1 L355.3,495.3 L358.1,496.6 L360.8,497.9 L363.6,499.2 L366.3,500.5 L369.0,501.9 L371.7,503.2 L374.4,504.6 L377.0,505.9 L379.7,507.3 L382.4,508.7 L385.0,510.1 L387.7,511.5 L390.3,512.9 L392.9,514.4 L395.5,515.8 L398.1,517.2 L400.7,518.7 L403.3,520.2 L405.9,521.6 L408.5,523.1 L411.1,524.6 L413.7,526.1 L416.2,527.6 L418.8,529.1 L421.4,530.6 L423.9,532.2 L426.5,533.7 L429.0,535.2 L431.6,536.8 L434.1,538.3 L436.6,539.9 L439.2,541.4 L441.7,543.0 L444.2,544.5 L446.8,546.1 L449.3,547.7 L451.8,549.3 L454.3,550.8 L456.9,552.4 L459.4,554.0 L461.9,555.6 L464.5,557.2 L467.0,558.8 L469.5,560.3 L472.1,561.9 L474.6,563.5 L477.1,565.1 L479.7,566.7 L482.2,568.3 L484.8,569.9 L487.3,571.5 L489.9,573.1 L492.4,574.7 L495.0,576.2 L497.6,577.8 L500.1,579.4 L502.7,581.0 L505.3,582.6 L507.9,584.1 L510.5,585.7 L513.1,587.3 L515.7,588.8 L518.3,590.4 L520.9,592.0 L523.5,593.5 L526.1,595.1 L528.7,596.7 L531.4,598.2 L534.0,599.8 L536.6,601.4 L539.2,602.9 L541.8,604.5 L544.4,606.1 L547.1,607.7 L549.7,609.3 L552.3,610.9 L554.9,612.5 L557.5,614.1 L560.1,615.7 L562.6,617.3 L565.2,619.0 L567.8,620.6 L570.4,622.3 L572.9,623.9 L575.4,625.6 L578.0,627.3 L580.5,629.0 L583.0,630.7 L585.5,632.4 L588.0,634.2 L590.5,635.9 L593.0,637.7 L595.4,639.5 L597.8,641.3 L600.3,643.1 L602.7,644.9 L605.1,646.8 L607.4,648.6 L609.8,650.5 L612.1,652.4 L614.4,654.3 L616.7,656.3 L619.0,658.2 L621.3,660.2 L623.5,662.2 L625.7,664.2 L627.9,666.3 L630.0,668.4 L632.1,670.5 L634.2,672.6 L636.2,674.7 L638.2,676.9 L640.2,679.1 L642.1,681.3 L644.0,683.5 L645.9,685.8 L647.7,688.1 L649.4,690.5 L651.2,692.8 L652.8,695.2 L654.5,697.6 L656.0,700.1 L657.6,702.6 L659.1,705.1 L660.5,707.6 L661.9,710.2 L663.2,712.8 L664.4,715.4 L665.7,718.1 L666.9,720.8 L668.0,723.5 L669.1,726.2 L670.1,729.0 L671.2,731.8 L672.1,734.6 L673.1,737.4 L674.0,740.2 L674.9,743.1 L675.7,746.0 L676.6,748.9 L677.4,751.8 L678.2,754.7 L678.9,757.6 L679.6,760.5 L680.4,763.5 L681.1,766.4 L681.8,769.4 L682.4,772.4 L683.1,775.3 L683.7,778.3 L684.4,781.3 L685.0,784.3 L685.7,787.2 L686.3,790.2 L686.9,793.2 L687.5,796.1 L688.2,799.1 L688.8,802.1 L689.4,805.1 L690.0,808.0 L690.6,811.0 L691.2,814.0 L691.8,817.0 L692.3,819.9 L692.9,822.9 L693.5,825.9 L694.1,828.9 L694.6,831.8 L695.2,834.8 L695.7,837.8 L696.3,840.8 L696.8,843.7 L697.4,846.7 L697.9,849.7 L698.4,852.7 L699.0,855.6 L699.5,858.6 L700.0,861.6 L700.5,864.6 L701.0,867.5 L701.5,870.5 L702.0,873.5 L702.5,876.5 L703.0,879.5 L703.5,882.4 L704.0,885.4 L704.5,888.4 L705.0,891.4 L705.4,894.3 L705.9,897.3 L706.4,900.3 L706.8,903.3 L707.3,906.3 L707.7,909.2 L708.2,912.2 L708.6,915.2 L709.1,918.2 L709.5,921.1 L710.0,924.1 L710.4,927.1 L710.8,930.1 L711.3,933.1 L711.7,936.0 L712.1,939.0 L712.5,942.0 L712.9,945.0 L713.3,948.0 L713.7,950.9 L714.1,953.9 L714.6,956.9 L714.9,959.9 L715.3,962.9 L715.7,965.8 L716.1,968.8 L716.5,971.8 L716.9,974.8 L717.3,977.8 L717.6,980.8 L718.0,983.7 L718.4,986.7 L718.8,989.7 L719.1,992.7 L719.5,995.7 L719.8,998.6 L720.2,1001.6 L720.6,1004.6 L720.9,1007.6 L721.3,1010.6 L721.6,1013.6 L722.0,1016.6 L722.3,1019.5 L722.6,1022.5 L723.0,1025.5 L723.3,1028.5 L723.6,1031.5 L724.0,1034.5 L724.3,1037.4 L724.6,1040.4 L725.0,1043.4 L725.3,1046.4 L725.6,1049.4 L725.9,1052.4 L726.2,1055.4 L726.6,1058.4 L726.9,1061.3 L727.2,1064.3 L727.5,1067.3 L727.8,1070.3 L728.1,1073.3 L728.4,1076.3 L728.7,1079.3 L729.0,1082.3 L729.3,1085.3 L729.6,1088.2 L729.9,1091.2 L730.2,1094.2 L730.5,1097.2 L730.8,1100.2 L731.1,1103.2 L731.4,1106.2 L731.6,1109.2 L731.9,1112.2 L732.2,1115.2 L732.5,1118.2 L732.8,1121.2 L733.1,1124.1 L733.3,1127.1 L733.6,1130.1 L733.9,1133.1 L734.2,1136.1 L734.4,1139.1 L734.7,1142.1 L735.0,1145.1 L735.3,1148.1 L735.5,1151.1 L735.8,1154.1 L736.1,1157.1 L736.4,1160.1 L736.6,1163.1 L736.9,1166.1 L737.2,1169.1 L737.4,1172.1 L737.7,1175.1 L737.9,1178.1 L738.2,1181.1 L738.5,1184.1 L738.7,1187.1 L739.0,1190.1 L739.2,1193.1 L739.5,1196.1 L739.8,1199.1 L740.0,1202.1 L740.3,1205.1 L740.5,1208.1 L740.8,1211.1 L741.0,1214.1 L741.3,1217.1 L741.5,1220.1 L741.8,1223.1 L742.0,1226.1 L742.2,1229.1 L742.5,1232.1 L742.7,1235.1 L743.0,1238.1 L743.2,1241.1 L743.5,1244.1 L743.7,1247.1 L743.9,1250.1 L744.2,1253.1 L744.4,1256.1 L744.6,1259.1 L744.9,1262.1 L745.1,1265.1 L745.3,1268.1 L745.5,1271.1 L745.8,1274.1 L746.0,1277.1 L746.2,1280.1 L746.4,1283.1 L746.7,1286.1 L746.9,1289.2 L747.1,1292.2 L747.3,1295.2 L747.5,1298.2 L747.8,1301.2 L748.0,1304.2 L748.2,1307.2 L748.4,1310.2 L748.6,1313.2 L748.8,1316.2 L749.0,1319.2 L749.2,1322.2 L749.4,1325.2 L749.6,1328.2 L749.8,1331.2 L750.0,1334.3 L750.2,1337.3 L750.4,1340.3 L750.6,1343.3 L750.8,1346.3 L751.0,1349.3 L751.2,1352.3 L751.4,1355.3 L751.6,1358.3 L751.8,1361.3 L751.9,1364.3 L752.1,1367.3 L752.3,1370.3 L752.5,1373.4 L752.7,1376.4 L752.8,1379.4 L753.0,1382.4 L753.2,1385.4 L753.4,1388.4 L753.5,1391.4 L753.7,1394.4 L753.9,1397.4 L754.0,1400.4 L754.2,1403.4 L754.4,1406.5 L754.5,1409.5 L754.7,1412.5 L754.9,1415.5 L755.0,1418.5 L755.2,1421.5 L755.3,1424.5 L755.5,1427.5 L755.6,1430.5 L755.8,1433.5 L755.9,1436.5 L756.1,1439.6 L756.2,1442.6 L756.4,1445.6 L756.5,1448.6 L756.6,1451.6 L756.8,1454.6 L756.9,1457.6 L757.1,1460.6 L757.2,1463.6 L757.3,1466.6 L757.4,1469.6 L757.6,1472.7 L757.7,1475.7 L757.8,1478.7 L757.9,1481.7 L758.1,1484.7 L758.2,1487.7 L758.3,1490.7 L758.4,1493.7 L758.5,1496.7 L758.6,1499.7 L758.8,1502.7 L758.9,1505.8 L759.0,1508.8 L759.1,1511.8 L759.2,1514.8 L759.3,1517.8 L759.4,1520.8 L759.5,1523.8 L759.6,1526.8 L759.7,1529.8 L759.8,1532.8 L759.8,1535.8 L759.9,1538.8 L760.0,1541.8 L760.1,1544.9 L760.2,1547.9 L760.3,1550.9 L760.3,1553.9 L760.4,1556.9 L760.5,1559.9 L760.6,1562.9 L760.6,1565.9 L760.7,1568.9 L760.8,1571.9 L760.8,1574.9 L760.9,1577.9 L761.0,1580.9 L761.0,1583.9 L761.1,1587.0 L761.1,1590.0 L761.2,1593.0 L761.2,1596.0 L761.3,1599.0 L761.3,1602.0 L761.4,1605.0 L761.4,1608.0 L761.5,1611.0 L761.5,1614.0" stroke="#006400" stroke-width="8.1"/>
<path d="M330.0,549.6 L332.8,550.8 L335.6,552.1 L338.3,553.4 L341.1,554.7 L343.8,556.0 L346.6,557.3 L349.3,558.6 L352.0,559.9 L354.7,561.2 L357.4,562.6 L360.1,564.0 L362.8,565.3 L365.5,566.7 L368.1,568.1 L370.8,569.5 L373.5,570.9 L376.1,572.3 L378.7,573.7 L381.4,575.1 L384.0,576.6 L386.6,578.0 L389.2,579.5 L391.8,580.9 L394.4,582.4 L397.0,583.9 L399.6,585.4 L402.2,586.9 L404.8,588.4 L407.3,589.9 L409.9,591.4 L412.5,592.9 L415.0,594.4 L417.6,596.0 L420.2,597.5 L422.7,599.1 L425.3,600.6 L427.8,602.2 L430.4,603.8 L432.9,605.4 L435.4,606.9 L438.0,608.5 L440.5,610.1 L443.1,611.7 L445.6,613.4 L448.2,615.0 L450.7,616.6 L453.2,618.2 L455.8,619.9 L458.3,621.5 L460.9,623.2 L463.4,624.8 L466.0,626.5 L468.5,628.1 L471.0,629.8 L473.6,631.5 L476.2,633.2 L478.7,634.8 L481.3,636.5 L483.8,638.2 L486.4,639.9 L489.0,641.6 L491.5,643.3 L494.1,645.0 L496.7,646.8 L499.3,648.5 L501.9,650.2 L504.5,651.9 L507.1,653.7 L509.7,655.4 L512.3,657.1 L514.9,658.9 L517.5,660.7 L520.0,662.5 L522.5,664.3 L525.0,666.1 L527.4,668.0 L529.7,669.9 L531.9,671.8 L534.0,673.8 L536.1,675.8 L538.0,677.9 L539.8,680.0 L541.5,682.2 L543.0,684.4 L544.3,686.8 L545.5,689.2 L546.5,691.6 L547.4,694.2 L548.0,696.8 L548.5,699.4 L548.8,702.2 L549.0,705.0 L549.0,707.8 L548.9,710.7 L548.6,713.6 L548.2,716.5 L547.8,719.5 L547.2,722.5 L546.5,725.4 L545.7,728.4 L544.9,731.3 L544.0,734.3 L543.1,737.2 L542.1,740.1 L541.0,743.0 L539.9,745.8 L538.8,748.7 L537.6,751.5 L536.3,754.3 L535.0,757.2 L533.7,760.0 L532.4,762.8 L531.0,765.5 L529.6,768.3 L528.2,771.1 L526.8,773.8 L525.3,776.6 L523.9,779.3 L522.4,782.1 L520.9,784.8 L519.4,787.5 L518.0,790.3 L516.5,793.0 L515.0,795.7 L513.6,798.5 L512.1,801.2 L510.7,803.9 L509.3,806.7 L507.9,809.4 L506.5,812.2 L505.2,814.9 L503.9,817.7 L502.5,820.4 L501.3,823.2 L500.0,825.9 L498.7,828.7 L497.5,831.4 L496.2,834.2 L495.0,837.0 L493.8,839.7 L492.6,842.5 L491.5,845.3 L490.3,848.1 L489.1,850.8 L488.0,853.6 L486.9,856.4 L485.8,859.2 L484.6,862.0 L483.5,864.8 L482.5,867.5 L481.4,870.3 L480.3,873.1 L479.2,875.9 L478.2,878.7 L477.1,881.5 L476.1,884.3 L475.0,887.1 L474.0,889.9 L472.9,892.7 L471.9,895.5 L470.9,898.4 L469.8,901.2 L468.8,904.0 L467.8,906.8 L466.7,909.6 L465.7,912.4 L464.7,915.2 L463.7,918.0 L462.7,920.9 L461.6,923.7 L460.6,926.5 L459.6,929.3 L458.6,932.2 L457.6,935.0 L456.6,937.8 L455.6,940.6 L454.6,943.5 L453.6,946.3 L452.6,949.1 L451.6,952.0 L450.6,954.8 L449.6,957.6 L448.6,960.5 L447.6,963.3 L446.6,966.1 L445.6,969.0 L444.6,971.8 L443.6,974.6 L442.6,977.5 L441.6,980.3 L440.7,983.2 L439.7,986.0 L438.7,988.9 L437.7,991.7 L436.8,994.6 L435.8,997.4 L434.8,1000.3 L433.8,1003.1 L432.9,1006.0 L431.9,1008.8 L430.9,1011.7 L430.0,1014.5 L429.0,1017.4 L428.1,1020.2 L427.1,1023.1 L426.2,1026.0 L425.2,1028.8 L424.2,1031.7 L423.3,1034.5 L422.3,1037.4 L421.4,1040.3 L420.5,1043.1 L419.5,1046.0 L418.6,1048.9 L417.6,1051.7 L416.7,1054.6 L415.8,1057.5 L414.8,1060.3 L413.9,1063.2 L413.0,1066.1 L412.1,1069.0 L411.1,1071.8 L410.2,1074.7 L409.3,1077.6 L408.4,1080.5 L407.4,1083.3 L406.5,1086.2 L405.6,1089.1 L404.7,1092.0 L403.8,1094.8 L402.9,1097.7 L402.0,1100.6 L401.1,1103.5 L400.2,1106.4 L399.3,1109.3 L398.4,1112.1 L397.5,1115.0 L396.6,1117.9 L395.7,1120.8 L394.8,1123.7 L393.9,1126.6 L393.0,1129.5 L392.2,1132.4 L391.3,1135.2 L390.4,1138.1 L389.5,1141.0 L388.7,1143.9 L387.8,1146.8 L386.9,1149.7 L386.0,1152.6 L385.2,1155.5 L384.3,1158.4 L383.4,1161.3 L382.6,1164.2 L381.7,1167.1 L380.9,1170.0 L380.0,1172.9 L379.2,1175.8 L378.3,1178.7 L377.5,1181.6 L376.6,1184.5 L375.8,1187.4 L374.9,1190.3 L374.1,1193.2 L373.3,1196.1 L372.4,1199.0 L371.6,1201.9 L370.8,1204.8 L369.9,1207.7 L369.1,1210.6 L368.3,1213.5 L367.5,1216.4 L366.6,1219.3 L365.8,1222.2 L365.0,1225.1 L364.2,1228.0 L363.4,1230.9 L362.6,1233.8 L361.8,1236.8 L361.0,1239.7 L360.2,1242.6 L359.4,1245.5 L358.6,1248.4 L357.8,1251.3 L357.0,1254.2 L356.2,1257.1 L355.4,1260.0 L354.6,1262.9 L353.8,1265.9 L353.1,1268.8 L352.3,1271.7 L351.5,1274.6 L350.7,1277.5 L350.0,1280.4 L349.2,1283.3 L348.4,1286.2 L347.7,1289.2 L346.9,1292.1 L346.1,1295.0 L345.4,1297.9 L344.6,1300.8 L343.9,1303.7 L343.1,1306.7 L342.4,1309.6 L341.6,1312.5 L340.9,1315.4 L340.1,1318.3 L339.4,1321.2 L338.7,1324.2 L337.9,1327.1 L337.2,1330.0 L336.5,1332.9 L335.7,1335.8 L335.0,1338.7 L334.3,1341.7 L333.6,1344.6 L332.8,1347.5 L332.1,1350.4 L331.4,1353.3 L330.7,1356.2 L330.0,1359.2" stroke="#b8860b" stroke-width="8.1"/>
<path d="M330.0,676.0 L332.3,677.8 L334.7,679.6 L337.0,681.4 L339.4,683.2 L341.7,685.1 L344.1,686.9 L346.4,688.7 L348.7,690.5 L351.1,692.4 L353.4,694.2 L355.8,696.0 L358.1,697.9 L360.5,699.7 L362.8,701.6 L365.1,703.4 L367.5,705.3 L369.8,707.1 L372.2,709.0 L374.5,710.9 L376.8,712.7 L379.2,714.6 L381.5,716.5 L383.9,718.4 L386.2,720.2 L388.5,722.1 L390.9,724.0 L393.2,725.9 L395.5,727.8 L397.9,729.7 L400.2,731.6 L402.5,733.5 L404.8,735.4 L407.2,737.3 L409.5,739.2 L411.8,741.2 L414.1,743.1 L416.4,745.0 L418.8,746.9 L421.1,748.9 L423.4,750.8 L425.7,752.8 L428.0,754.7 L430.3,756.7 L432.6,758.6 L434.9,760.6 L437.2,762.5 L439.5,764.5 L441.8,766.5 L444.1,768.4 L446.4,770.4 L448.7,772.4 L451.0,774.4 L453.2,776.4 L455.5,778.4 L457.8,780.4 L460.1,782.4 L462.3,784.4 L464.6,786.4 L466.9,788.4 L469.1,790.4 L471.4,792.4 L473.6,794.5 L475.9,796.5 L478.1,798.5 L480.4,800.6 L482.6,802.6 L484.9,804.7 L487.1,806.7 L489.3,808.8 L491.5,810.8 L493.8,812.9 L496.0,815.0 L498.2,817.0 L500.4,819.1 L502.6,821.2 L504.8,823.3 L507.0,825.4 L509.2,827.5 L511.4,829.6 L513.5,831.7 L515.7,833.8 L517.9,835.9 L520.0,838.0 L522.2,840.2 L524.4,842.3 L526.5,844.4 L528.7,846.6 L530.8,848.7 L532.9,850.9 L535.1,853.0 L537.2,855.2 L539.3,857.3 L541.4,859.5 L543.5,861.7 L545.6,863.9 L547.7,866.1 L549.8,868.2 L551.9,870.4 L554.0,872.6 L556.1,874.8 L558.1,877.1 L560.2,879.3 L562.2,881.5 L564.3,883.7 L566.3,885.9 L568.4,888.2 L570.4,890.4 L572.4,892.7 L574.4,894.9 L576.5,897.2 L578.5,899.4 L580.5,901.7 L582.5,904.0 L584.4,906.3 L586.4,908.5 L588.4,910.8 L590.3,913.1 L592.3,915.4 L594.2,917.7 L596.2,920.0 L598.1,922.4 L600.1,924.7 L602.0,927.0 L603.9,929.3 L605.8,931.7 L607.7,934.0 L609.6,936.4 L611.5,938.7 L613.3,941.1 L615.2,943.5 L617.0,945.8 L618.9,948.2 L620.7,950.6 L622.6,953.0 L624.4,955.4 L626.2,957.8 L628.0,960.2 L629.8,962.6 L631.6,965.0 L633.4,967.5 L635.2,969.9 L636.9,972.3 L638.7,974.8 L640.4,977.2 L642.2,979.7 L643.9,982.2 L645.6,984.6 L647.3,987.1 L649.0,989.6 L650.7,992.1 L652.4,994.6 L654.1,997.1 L655.7,999.6 L657.4,1002.1 L659.0,1004.6 L660.7,1007.1 L662.3,1009.7 L663.9,1012.2 L665.5,1014.8 L667.1,1017.3 L668.7,1019.9 L670.3,1022.4 L671.9,1025.0 L673.4,1027.6 L675.0,1030.2 L676.5,1032.8 L678.0,1035.3 L679.5,1037.9 L681.0,1040.6 L682.5,1043.2 L684.0,1045.8 L685.4,1048.4 L686.9,1051.0 L688.3,1053.7 L689.8,1056.3 L691.2,1059.0 L692.6,1061.6 L694.0,1064.3 L695.4,1067.0 L696.7,1069.6 L698.1,1072.3 L699.4,1075.0 L700.7,1077.7 L702.1,1080.4 L703.4,1083.1 L704.7,1085.8 L705.9,1088.5 L707.2,1091.2 L708.4,1093.9 L709.7,1096.7 L710.9,1099.4 L712.1,1102.2 L713.3,1104.9 L714.4,1107.7 L715.6,1110.4 L716.8,1113.2 L717.9,1115.9 L719.0,1118.7 L720.1,1121.5 L721.2,1124.3 L722.2,1127.1 L723.3,1129.9 L724.3,1132.7 L725.4,1135.5 L726.4,1138.3 L727.4,1141.1 L728.3,1143.9 L729.3,1146.7 L730.2,1149.6 L731.1,1152.4 L732.1,1155.3 L732.9,1158.1 L733.8,1161.0 L734.7,1163.8 L735.5,1166.7 L736.3,1169.5 L737.1,1172.4 L737.9,1175.3 L738.7,1178.2 L739.4,1181.1 L740.2,1184.0 L740.9,1186.9 L741.6,1189.8 L742.2,1192.7 L742.9,1195.6 L743.5,1198.5 L744.1,1201.4 L744.7,1204.3 L745.3,1207.3 L745.9,1210.2 L746.4,1213.1 L747.0,1216.1 L747.5,1219.0 L748.0,1222.0 L748.4,1224.9 L748.9,1227.9 L749.3,1230.9 L749.8,1233.8 L750.2,1236.8 L750.6,1239.8 L751.0,1242.7 L751.3,1245.7 L751.7,1248.7 L752.0,1251.7 L752.3,1254.7 L752.6,1257.7 L752.9,1260.7 L753.2,1263.7 L753.5,1266.7 L753.7,1269.7 L754.0,1272.7 L754.2,1275.7 L754.4,1278.8 L754.6,1281.8 L754.8,1284.8 L755.0,1287.8 L755.1,1290.8 L755.3,1293.9 L755.4,1296.9 L755.6,1299.9 L755.7,1303.0 L755.8,1306.0 L755.9,1309.1 L756.0,1312.1 L756.1,1315.2 L756.1,1318.2 L756.2,1321.2 L756.2,1324.3 L756.3,1327.4 L756.3,1330.4 L756.3,1333.5 L756.4,1336.5 L756.4,1339.6 L756.4,1342.6 L756.4,1345.7 L756.4,1348.8 L756.3,1351.8 L756.3,1354.9 L756.3,1357.9 L756.2,1361.0 L756.2,1364.1 L756.2,1367.1 L756.1,1370.2 L756.0,1373.3 L756.0,1376.4 L755.9,1379.4 L755.8,1382.5 L755.8,1385.6 L755.7,1388.6 L755.6,1391.7 L755.5,1394.8 L755.4,1397.8 L755.3,1400.9 L755.2,1404.0 L755.1,1407.0 L755.0,1410.1 L754.9,1413.2 L754.8,1416.2 L754.7,1419.3 L754.6,1422.4 L754.5,1425.4 L754.4,1428.5 L754.3,1431.6 L754.2,1434.6 L754.0,1437.7 L753.9,1440.8 L753.8,1443.8 L753.7,1446.9 L753.6,1449.9 L753.5,1453.0 L753.4,1456.1 L753.3,1459.1 L753.2,1462.2 L753.1,1465.2 L753.0,1468.3 L752.9,1471.3 L752.8,1474.4 L752.7,1477.4 L752.6,1480.4 L752.5,1483.5 L752.5,1486.5 L752.4,1489.5 L752.3,1492.6 L752.2,1495.6 L752.2,1498.6 L752.1,1501.7 L752.1,1504.7 L752.0,1507.7 L752.0,1510.7 L751.9,1513.7 L751.9,1516.7 L751.9,1519.7 L751.9,1522.8 L751.9,1525.8 L751.9,1528.8 L751.9,1531.7 L751.9,1534.7 L751.9,1537.7 L751.9,1540.7 L752.0,1543.7 L752.0,1546.7 L752.1,1549.6 L752.1,1552.6 L752.2,1555.6 L752.3,1558.5 L752.4,1561.5 L752.5,1564.5 L752.6,1567.4 L752.7,1570.4 L752.9,1573.3 L753.0,1576.2 L753.2,1579.2 L753.3,1582.1 L753.5,1585.0 L753.7,1587.9 L753.9,1590.9 L754.1,1593.8 L754.3,1596.7 L754.6,1599.6 L754.8,1602.5 L755.1,1605.4 L755.4,1608.2 L755.7,1611.1 L756.0,1614.0" stroke="#bdb76b" stroke-width="8.1"/>
<path d="M330.0,744.0 L332.4,745.8 L334.9,747.6 L337.3,749.4 L339.7,751.2 L342.1,753.0 L344.5,754.9 L346.9,756.7 L349.3,758.5 L351.7,760.3 L354.1,762.2 L356.5,764.0 L358.9,765.9 L361.3,767.7 L363.7,769.6 L366.1,771.4 L368.4,773.3 L370.8,775.1 L373.2,777.0 L375.5,778.9 L377.9,780.8 L380.2,782.7 L382.6,784.6 L384.9,786.4 L387.2,788.3 L389.6,790.2 L391.9,792.2 L394.2,794.1 L396.5,796.0 L398.9,797.9 L401.2,799.8 L403.5,801.8 L405.8,803.7 L408.1,805.6 L410.4,807.6 L412.7,809.5 L415.0,811.5 L417.2,813.4 L419.5,815.4 L421.8,817.3 L424.1,819.3 L426.3,821.3 L428.6,823.3 L430.9,825.2 L433.1,827.2 L435.4,829.2 L437.6,831.2 L439.9,833.2 L442.1,835.2 L444.3,837.2 L446.6,839.2 L448.8,841.2 L451.0,843.2 L453.3,845.3 L455.5,847.3 L457.7,849.3 L459.9,851.4 L462.1,853.4 L464.3,855.4 L466.5,857.5 L468.7,859.5 L470.9,861.6 L473.1,863.6 L475.3,865.7 L477.4,867.8 L479.6,869.8 L481.8,871.9 L483.9,874.0 L486.1,876.1 L488.3,878.2 L490.4,880.3 L492.6,882.3 L494.7,884.4 L496.9,886.5 L499.0,888.7 L501.2,890.8 L503.3,892.9 L505.4,895.0 L507.5,897.1 L509.7,899.2 L511.8,901.4 L513.9,903.5 L516.0,905.6 L518.1,907.8 L520.2,909.9 L522.3,912.1 L524.4,914.2 L526.5,916.4 L528.6,918.5 L530.7,920.7 L532.8,922.8 L534.9,925.0 L536.9,927.2 L539.0,929.4 L541.1,931.5 L543.1,933.7 L545.2,935.9 L547.3,938.1 L549.3,940.3 L551.4,942.5 L553.4,944.7 L555.5,946.9 L557.5,949.1 L559.5,951.3 L561.6,953.5 L563.6,955.8 L565.6,958.0 L567.6,960.2 L569.7,962.4 L571.7,964.7 L573.7,966.9 L575.7,969.1 L577.7,971.4 L579.7,973.6 L581.7,975.9 L583.7,978.1 L585.6,980.4 L587.6,982.7 L589.6,984.9 L591.6,987.2 L593.5,989.5 L595.5,991.7 L597.5,994.0 L599.4,996.3 L601.4,998.6 L603.3,1000.9 L605.3,1003.2 L607.2,1005.5 L609.2,1007.8 L611.1,1010.1 L613.0,1012.4 L614.9,1014.7 L616.9,1017.0 L618.8,1019.3 L620.7,1021.7 L622.6,1024.0 L624.5,1026.3 L626.4,1028.7 L628.3,1031.0 L630.2,1033.3 L632.1,1035.7 L633.9,1038.0 L635.8,1040.4 L637.7,1042.7 L639.6,1045.1 L641.4,1047.5 L643.3,1049.8 L645.1,1052.2 L647.0,1054.6 L648.8,1056.9 L650.7,1059.3 L652.5,1061.7 L654.3,1064.1 L656.2,1066.5 L658.0,1068.9 L659.8,1071.3 L661.6,1073.7 L663.4,1076.1 L665.2,1078.5 L667.0,1080.9 L668.8,1083.3 L670.6,1085.7 L672.4,1088.1 L674.2,1090.6 L675.9,1093.0 L677.7,1095.4 L679.5,1097.9 L681.2,1100.3 L683.0,1102.7 L684.7,1105.2 L686.5,1107.6 L688.2,1110.1 L689.9,1112.6 L691.7,1115.0 L693.4,1117.5 L695.1,1119.9 L696.8,1122.4 L698.5,1124.9 L700.3,1127.4 L702.0,1129.9 L703.6,1132.3 L705.3,1134.8 L707.0,1137.3 L708.7,1139.8 L710.4,1142.3 L712.0,1144.8 L713.7,1147.3 L715.4,1149.8 L717.0,1152.3 L718.7,1154.8 L720.3,1157.4 L722.0,1159.9 L723.6,1162.4 L725.2,1164.9 L726.8,1167.5 L728.5,1170.0 L730.1,1172.5 L731.7,1175.1 L733.3,1177.6 L734.9,1180.2 L736.5,1182.7 L738.1,1185.3 L739.7,1187.8 L741.3,1190.4 L742.8,1192.9 L744.4,1195.5 L746.0,1198.1 L747.5,1200.6 L749.1,1203.2 L750.6,1205.8 L752.2,1208.4 L753.7,1210.9 L755.3,1213.5 L756.8,1216.1 L758.4,1218.7 L759.9,1221.3 L761.4,1223.9 L762.9,1226.5 L764.4,1229.1 L765.9,1231.7 L767.4,1234.3 L768.9,1236.9 L770.4,1239.5 L771.9,1242.1 L773.4,1244.7 L774.9,1247.3 L776.4,1249.9 L777.9,1252.5 L779.3,1255.1 L780.8,1257.8 L782.3,1260.4 L783.7,1263.0 L785.2,1265.6 L786.6,1268.3 L788.1,1270.9 L789.5,1273.5 L790.9,1276.2 L792.4,1278.8 L793.8,1281.4 L795.2,1284.1 L796.7,1286.7 L798.1,1289.4 L799.5,1292.0 L800.9,1294.6 L802.3,1297.3 L803.8,1299.9 L805.2,1302.6 L806.6,1305.2 L808.0,1307.9 L809.4,1310.5 L810.8,1313.2 L812.2,1315.8 L813.6,1318.5 L815.0,1321.1 L816.4,1323.8 L817.8,1326.5 L819.2,1329.1 L820.6,1331.8 L822.1,1334.4 L823.5,1337.1 L824.9,1339.7 L826.3,1342.4 L827.7,1345.0 L829.1,1347.7 L830.5,1350.3 L832.0,1353.0 L833.4,1355.6 L834.8,1358.3 L836.3,1360.9 L837.7,1363.6 L839.1,1366.2 L840.6,1368.9 L842.0,1371.5 L843.5,1374.1 L844.9,1376.8 L846.4,1379.4 L847.9,1382.1 L849.3,1384.7 L850.8,1387.3 L852.3,1390.0 L853.8,1392.6 L855.3,1395.2 L856.7,1397.9 L858.2,1400.5 L859.7,1403.1 L861.2,1405.8 L862.7,1408.4 L864.2,1411.0 L865.6,1413.7 L867.1,1416.3 L868.6,1419.0 L870.0,1421.6 L871.5,1424.3 L872.9,1426.9 L874.3,1429.6 L875.8,1432.2 L877.2,1434.9 L878.6,1437.6 L879.9,1440.2 L881.3,1442.9 L882.7,1445.6 L884.0,1448.3 L885.4,1451.0 L886.7,1453.7 L888.0,1456.4 L889.2,1459.1 L890.5,1461.8 L891.8,1464.5 L893.0,1467.3 L894.2,1470.0 L895.3,1472.7 L896.5,1475.5 L897.6,1478.3 L898.7,1481.0 L899.8,1483.8 L900.9,1486.6 L901.9,1489.4 L902.9,1492.2 L903.9,1495.1 L904.8,1497.9 L905.7,1500.7 L906.6,1503.6 L907.5,1506.4 L908.3,1509.3 L909.1,1512.2 L909.9,1515.1 L910.6,1518.0 L911.3,1520.9 L912.0,1523.8 L912.7,1526.8 L913.3,1529.7 L913.9,1532.6 L914.4,1535.6 L915.0,1538.5 L915.5,1541.5 L915.9,1544.5 L916.4,1547.5 L916.8,1550.4 L917.2,1553.4 L917.5,1556.4 L917.8,1559.4 L918.1,1562.4 L918.4,1565.4 L918.6,1568.4 L918.8,1571.5 L919.0,1574.5 L919.1,1577.5 L919.2,1580.5 L919.3,1583.6 L919.3,1586.6 L919.4,1589.6 L919.4,1592.7 L919.3,1595.7 L919.2,1598.8 L919.1,1601.8 L919.0,1604.9 L918.8,1607.9 L918.6,1611.0 L918.4,1614.0" stroke="#32cd32" stroke-width="8.1"/>
<path d="M330.0,758.3 L332.2,760.4 L334.4,762.5 L336.6,764.5 L338.8,766.6 L340.9,768.7 L343.1,770.8 L345.3,772.9 L347.4,775.0 L349.6,777.1 L351.8,779.3 L353.9,781.4 L356.1,783.5 L358.2,785.6 L360.4,787.7 L362.5,789.9 L364.6,792.0 L366.8,794.2 L368.9,796.3 L371.0,798.4 L373.1,800.6 L375.2,802.8 L377.3,804.9 L379.4,807.1 L381.5,809.2 L383.6,811.4 L385.7,813.6 L387.8,815.8 L389.9,818.0 L392.0,820.1 L394.0,822.3 L396.1,824.5 L398.2,826.7 L400.2,828.9 L402.3,831.1 L404.3,833.3 L406.4,835.6 L408.4,837.8 L410.5,840.0 L412.5,842.2 L414.5,844.4 L416.6,846.7 L418.6,848.9 L420.6,851.1 L422.6,853.4 L424.6,855.6 L426.6,857.9 L428.6,860.1 L430.6,862.4 L432.6,864.7 L434.6,866.9 L436.6,869.2 L438.6,871.5 L440.6,873.7 L442.5,876.0 L444.5,878.3 L446.4,880.6 L448.4,882.9 L450.4,885.2 L452.3,887.5 L454.2,889.8 L456.2,892.1 L458.1,894.4 L460.1,896.7 L462.0,899.0 L463.9,901.3 L465.8,903.7 L467.7,906.0 L469.6,908.3 L471.5,910.7 L473.4,913.0 L475.3,915.3 L477.2,917.7 L479.1,920.0 L481.0,922.4 L482.9,924.7 L484.7,927.1 L486.6,929.5 L488.5,931.8 L490.3,934.2 L492.2,936.6 L494.0,938.9 L495.9,941.3 L497.7,943.7 L499.5,946.1 L501.4,948.5 L503.2,950.9 L505.0,953.3 L506.8,955.7 L508.6,958.1 L510.4,960.5 L512.2,962.9 L514.0,965.3 L515.8,967.7 L517.6,970.1 L519.4,972.6 L521.2,975.0 L522.9,977.4 L524.7,979.8 L526.5,982.3 L528.2,984.7 L530.0,987.2 L531.7,989.6 L533.5,992.1 L535.2,994.5 L537.0,997.0 L538.7,999.4 L540.4,1001.9 L542.1,1004.4 L543.9,1006.8 L545.6,1009.3 L547.3,1011.8 L549.0,1014.3 L550.7,1016.8 L552.4,1019.2 L554.1,1021.7 L555.7,1024.2 L557.4,1026.7 L559.1,1029.2 L560.8,1031.7 L562.4,1034.2 L564.1,1036.7 L565.7,1039.3 L567.4,1041.8 L569.0,1044.3 L570.7,1046.8 L572.3,1049.3 L573.9,1051.9 L575.6,1054.4 L577.2,1056.9 L578.8,1059.5 L580.4,1062.0 L582.0,1064.6 L583.6,1067.1 L585.2,1069.7 L586.8,1072.2 L588.4,1074.8 L590.0,1077.3 L591.5,1079.9 L593.1,1082.5 L594.7,1085.0 L596.2,1087.6 L597.8,1090.2 L599.3,1092.8 L600.9,1095.3 L602.4,1097.9 L604.0,1100.5 L605.5,1103.1 L607.0,1105.7 L608.5,1108.3 L610.1,1110.9 L611.6,1113.5 L613.1,1116.1 L614.6,1118.7 L616.1,1121.3 L617.6,1123.9 L619.1,1126.6 L620.6,1129.2 L622.0,1131.8 L623.5,1134.4 L625.0,1137.0 L626.5,1139.7 L627.9,1142.3 L629.4,1144.9 L630.8,1147.6 L632.3,1150.2 L633.8,1152.8 L635.2,1155.5 L636.6,1158.1 L638.1,1160.8 L639.5,1163.4 L641.0,1166.1 L642.4,1168.7 L643.8,1171.4 L645.2,1174.0 L646.7,1176.7 L648.1,1179.4 L649.5,1182.0 L650.9,1184.7 L652.3,1187.4 L653.7,1190.0 L655.1,1192.7 L656.5,1195.4 L657.9,1198.1 L659.3,1200.7 L660.7,1203.4 L662.0,1206.1 L663.4,1208.8 L664.8,1211.5 L666.2,1214.1 L667.6,1216.8 L668.9,1219.5 L670.3,1222.2 L671.7,1224.9 L673.0,1227.6 L674.4,1230.3 L675.7,1233.0 L677.1,1235.7 L678.5,1238.4 L679.8,1241.1 L681.2,1243.8 L682.5,1246.5 L683.8,1249.2 L685.2,1251.9 L686.5,1254.6 L687.9,1257.3 L689.2,1260.0 L690.5,1262.7 L691.9,1265.5 L693.2,1268.2 L694.5,1270.9 L695.9,1273.6 L697.2,1276.3 L698.5,1279.0 L699.8,1281.7 L701.1,1284.5 L702.5,1287.2 L703.8,1289.9 L705.1,1292.6 L706.4,1295.3 L707.7,1298.1 L709.0,1300.8 L710.3,1303.5 L711.7,1306.2 L713.0,1309.0 L714.3,1311.7 L715.6,1314.4 L716.9,1317.1 L718.2,1319.9 L719.5,1322.6 L720.8,1325.3 L722.1,1328.1 L723.4,1330.8 L724.7,1333.5 L726.0,1336.2 L727.3,1339.0 L728.6,1341.7 L729.9,1344.4 L731.2,1347.2 L732.5,1349.9 L733.8,1352.6 L735.1,1355.4 L736.4,1358.1 L737.7,1360.8 L738.9,1363.6 L740.2,1366.3 L741.5,1369.0 L742.8,1371.8 L744.0,1374.5 L745.3,1377.2 L746.6,1380.0 L747.8,1382.7 L749.1,1385.5 L750.3,1388.2 L751.6,1391.0 L752.8,1393.7 L754.0,1396.5 L755.2,1399.2 L756.4,1402.0 L757.6,1404.7 L758.8,1407.5 L760.0,1410.2 L761.2,1413.0 L762.4,1415.8 L763.5,1418.5 L764.7,1421.3 L765.8,1424.1 L766.9,1426.8 L768.1,1429.6 L769.2,1432.4 L770.2,1435.2 L771.3,1438.0 L772.4,1440.8 L773.5,1443.6 L774.5,1446.4 L775.5,1449.2 L776.5,1452.0 L777.5,1454.8 L778.5,1457.6 L779.5,1460.4 L780.4,1463.2 L781.4,1466.0 L782.3,1468.9 L783.2,1471.7 L784.1,1474.5 L785.0,1477.4 L785.8,1480.2 L786.7,1483.0 L787.5,1485.9 L788.3,1488.8 L789.1,1491.6 L789.9,1494.5 L790.6,1497.4 L791.3,1500.2 L792.0,1503.1 L792.7,1506.0 L793.4,1508.9 L794.0,1511.8 L794.7,1514.7 L795.3,1517.6 L795.8,1520.5 L796.4,1523.4 L796.9,1526.3 L797.4,1529.3 L797.9,1532.2 L798.4,1535.2 L798.8,1538.1 L799.3,1541.1 L799.6,1544.0 L800.0,1547.0 L800.4,1550.0 L800.7,1552.9 L801.0,1555.9 L801.2,1558.9 L801.5,1561.9 L801.7,1564.9 L801.8,1567.9 L802.0,1570.9 L802.1,1574.0 L802.2,1577.0 L802.3,1580.0 L802.3,1583.1 L802.3,1586.2 L802.3,1589.2 L802.2,1592.3 L802.2,1595.4 L802.1,1598.5 L801.9,1601.5 L801.7,1604.6 L801.5,1607.8 L801.3,1610.9 L801.0,1614.0" stroke="#5f9ea0" stroke-width="8.1"/>
<path d="M330.0,732.8 L332.1,735.0 L334.2,737.2 L336.3,739.3 L338.4,741.5 L340.5,743.7 L342.6,745.9 L344.7,748.1 L346.7,750.3 L348.8,752.5 L350.9,754.7 L352.9,756.9 L354.9,759.1 L357.0,761.3 L359.0,763.6 L361.0,765.8 L363.0,768.0 L365.1,770.3 L367.1,772.5 L369.1,774.8 L371.0,777.0 L373.0,779.3 L375.0,781.6 L377.0,783.9 L378.9,786.1 L380.9,788.4 L382.8,790.7 L384.8,793.0 L386.7,795.3 L388.7,797.6 L390.6,799.9 L392.5,802.3 L394.4,804.6 L396.3,806.9 L398.2,809.2 L400.1,811.6 L402.0,813.9 L403.9,816.2 L405.8,818.6 L407.6,820.9 L409.5,823.3 L411.3,825.7 L413.2,828.0 L415.0,830.4 L416.9,832.8 L418.7,835.2 L420.5,837.5 L422.4,839.9 L424.2,842.3 L426.0,844.7 L427.8,847.1 L429.6,849.5 L431.4,851.9 L433.2,854.4 L435.0,856.8 L436.7,859.2 L438.5,861.6 L440.3,864.1 L442.0,866.5 L443.8,868.9 L445.5,871.4 L447.3,873.8 L449.0,876.3 L450.7,878.7 L452.4,881.2 L454.2,883.7 L455.9,886.1 L457.6,888.6 L459.3,891.1 L461.0,893.6 L462.7,896.1 L464.3,898.5 L466.0,901.0 L467.7,903.5 L469.4,906.0 L471.0,908.5 L472.7,911.0 L474.3,913.5 L476.0,916.1 L477.6,918.6 L479.3,921.1 L480.9,923.6 L482.5,926.1 L484.1,928.7 L485.8,931.2 L487.4,933.8 L489.0,936.3 L490.6,938.8 L492.2,941.4 L493.8,943.9 L495.3,946.5 L496.9,949.0 L498.5,951.6 L500.1,954.2 L501.6,956.7 L503.2,959.3 L504.8,961.9 L506.3,964.5 L507.8,967.0 L509.4,969.6 L510.9,972.2 L512.5,974.8 L514.0,977.4 L515.5,980.0 L517.0,982.6 L518.5,985.2 L520.0,987.8 L521.5,990.4 L523.0,993.0 L524.5,995.6 L526.0,998.2 L527.5,1000.8 L529.0,1003.5 L530.4,1006.1 L531.9,1008.7 L533.4,1011.3 L534.8,1014.0 L536.3,1016.6 L537.7,1019.2 L539.2,1021.9 L540.6,1024.5 L542.1,1027.2 L543.5,1029.8 L544.9,1032.5 L546.4,1035.1 L547.8,1037.8 L549.2,1040.4 L550.6,1043.1 L552.0,1045.7 L553.4,1048.4 L554.8,1051.1 L556.2,1053.7 L557.6,1056.4 L559.0,1059.1 L560.4,1061.7 L561.8,1064.4 L563.1,1067.1 L564.5,1069.8 L565.9,1072.5 L567.2,1075.1 L568.6,1077.8 L569.9,1080.5 L571.3,1083.2 L572.6,1085.9 L574.0,1088.6 L575.3,1091.3 L576.6,1094.0 L578.0,1096.7 L579.3,1099.4 L580.6,1102.1 L581.9,1104.8 L583.3,1107.5 L584.6,1110.2 L585.9,1112.9 L587.2,1115.6 L588.5,1118.3 L589.8,1121.0 L591.1,1123.7 L592.4,1126.5 L593.6,1129.2 L594.9,1131.9 L596.2,1134.6 L597.5,1137.3 L598.7,1140.1 L600.0,1142.8 L601.3,1145.5 L602.5,1148.2 L603.8,1151.0 L605.0,1153.7 L606.3,1156.4 L607.5,1159.2 L608.8,1161.9 L610.0,1164.6 L611.2,1167.4 L612.5,1170.1 L613.7,1172.9 L614.9,1175.6 L616.2,1178.3 L617.4,1181.1 L618.6,1183.8 L619.8,1186.6 L621.0,1189.3 L622.2,1192.1 L623.4,1194.8 L624.6,1197.6 L625.8,1200.3 L627.0,1203.1 L628.2,1205.9 L629.4,1208.6 L630.6,1211.4 L631.8,1214.1 L632.9,1216.9 L634.1,1219.7 L635.3,1222.4 L636.5,1225.2 L637.6,1228.0 L638.8,1230.7 L639.9,1233.5 L641.1,1236.3 L642.3,1239.0 L643.4,1241.8 L644.6,1244.6 L645.7,1247.4 L646.8,1250.1 L648.0,1252.9 L649.1,1255.7 L650.3,1258.5 L651.4,1261.3 L652.5,1264.1 L653.7,1266.8 L654.8,1269.6 L655.9,1272.4 L657.0,1275.2 L658.1,1278.0 L659.3,1280.8 L660.4,1283.6 L661.5,1286.4 L662.6,1289.2 L663.7,1292.0 L664.8,1294.8 L665.9,1297.5 L667.0,1300.3 L668.1,1303.1 L669.2,1305.9 L670.3,1308.7 L671.4,1311.6 L672.4,1314.4 L673.5,1317.2 L674.6,1320.0 L675.7,1322.8 L676.8,1325.6 L677.8,1328.4 L678.9,1331.2 L680.0,1334.0 L681.0,1336.8 L682.1,1339.6 L683.2,1342.5 L684.2,1345.3 L685.3,1348.1 L686.4,1350.9 L687.4,1353.7 L688.5,1356.5 L689.5,1359.4 L690.6,1362.2 L691.6,1365.0 L692.7,1367.8 L693.7,1370.6 L694.7,1373.5 L695.8,1376.3 L696.8,1379.1 L697.9,1381.9 L698.9,1384.8 L699.9,1387.6 L701.0,1390.4 L702.0,1393.3 L703.0,1396.1 L704.0,1398.9 L705.1,1401.8 L706.1,1404.6 L707.1,1407.4 L708.1,1410.3 L709.1,1413.1 L710.1,1415.9 L711.1,1418.8 L712.2,1421.6 L713.2,1424.5 L714.2,1427.3 L715.2,1430.1 L716.2,1433.0 L717.1,1435.8 L718.1,1438.7 L719.1,1441.5 L720.1,1444.4 L721.1,1447.2 L722.1,1450.1 L723.0,1452.9 L724.0,1455.8 L725.0,1458.6 L725.9,1461.5 L726.9,1464.3 L727.9,1467.2 L728.8,1470.0 L729.8,1472.9 L730.7,1475.7 L731.7,1478.6 L732.6,1481.4 L733.5,1484.3 L734.5,1487.2 L735.4,1490.0 L736.3,1492.9 L737.2,1495.8 L738.2,1498.6 L739.1,1501.5 L740.0,1504.3 L740.9,1507.2 L741.8,1510.1 L742.7,1513.0 L743.6,1515.8 L744.5,1518.7 L745.4,1521.6 L746.2,1524.4 L747.1,1527.3 L748.0,1530.2 L748.8,1533.1 L749.7,1535.9 L750.6,1538.8 L751.4,1541.7 L752.3,1544.6 L753.1,1547.5 L753.9,1550.3 L754.8,1553.2 L755.6,1556.1 L756.4,1559.0 L757.2,1561.9 L758.0,1564.8 L758.9,1567.7 L759.7,1570.5 L760.5,1573.4 L761.2,1576.3 L762.0,1579.2 L762.8,1582.1 L763.6,1585.0 L764.4,1587.9 L765.1,1590.8 L765.9,1593.7 L766.6,1596.6 L767.4,1599.5 L768.1,1602.4 L768.8,1605.3 L769.6,1608.2 L770.3,1611.1 L771.0,1614.0" stroke="#00ffff" stroke-width="8.1"/>
<path d="M330.0,824.5 L331.8,826.9 L333.6,829.4 L335.3,831.8 L337.1,834.3 L338.9,836.7 L340.6,839.2 L342.4,841.6 L344.1,844.1 L345.8,846.6 L347.5,849.1 L349.2,851.5 L350.9,854.0 L352.6,856.5 L354.3,859.0 L356.0,861.5 L357.6,864.0 L359.3,866.6 L361.0,869.1 L362.6,871.6 L364.2,874.1 L365.9,876.7 L367.5,879.2 L369.1,881.7 L370.7,884.3 L372.3,886.8 L373.9,889.4 L375.5,891.9 L377.0,894.5 L378.6,897.1 L380.2,899.7 L381.7,902.2 L383.2,904.8 L384.8,907.4 L386.3,910.0 L387.8,912.6 L389.3,915.2 L390.8,917.8 L392.3,920.4 L393.8,923.0 L395.3,925.6 L396.8,928.2 L398.2,930.9 L399.7,933.5 L401.1,936.1 L402.6,938.8 L404.0,941.4 L405.4,944.1 L406.9,946.7 L408.3,949.4 L409.7,952.0 L411.1,954.7 L412.5,957.3 L413.8,960.0 L415.2,962.7 L416.6,965.4 L417.9,968.0 L419.3,970.7 L420.6,973.4 L422.0,976.1 L423.3,978.8 L424.6,981.5 L425.9,984.2 L427.2,986.9 L428.5,989.6 L429.8,992.3 L431.1,995.1 L432.4,997.8 L433.6,1000.5 L434.9,1003.2 L436.2,1006.0 L437.4,1008.7 L438.7,1011.5 L439.9,1014.2 L441.1,1016.9 L442.3,1019.7 L443.5,1022.4 L444.7,1025.2 L445.9,1028.0 L447.1,1030.7 L448.3,1033.5 L449.5,1036.3 L450.7,1039.0 L451.8,1041.8 L453.0,1044.6 L454.1,1047.4 L455.2,1050.2 L456.4,1052.9 L457.5,1055.7 L458.6,1058.5 L459.7,1061.3 L460.8,1064.1 L461.9,1066.9 L463.0,1069.7 L464.1,1072.6 L465.2,1075.4 L466.2,1078.2 L467.3,1081.0 L468.4,1083.8 L469.4,1086.7 L470.4,1089.5 L471.5,1092.3 L472.5,1095.1 L473.5,1098.0 L474.5,1100.8 L475.5,1103.7 L476.5,1106.5 L477.5,1109.4 L478.5,1112.2 L479.5,1115.1 L480.5,1117.9 L481.4,1120.8 L482.4,1123.6 L483.3,1126.5 L484.3,1129.4 L485.2,1132.2 L486.1,1135.1 L487.1,1138.0 L488.0,1140.8 L488.9,1143.7 L489.8,1146.6 L490.7,1149.5 L491.6,1152.4 L492.4,1155.2 L493.3,1158.1 L494.2,1161.0 L495.1,1163.9 L495.9,1166.8 L496.8,1169.7 L497.6,1172.6 L498.4,1175.5 L499.3,1178.4 L500.1,1181.3 L500.9,1184.2 L501.7,1187.1 L502.5,1190.1 L503.3,1193.0 L504.1,1195.9 L504.9,1198.8 L505.6,1201.7 L506.4,1204.6 L507.2,1207.6 L507.9,1210.5 L508.7,1213.4 L509.4,1216.4 L510.2,1219.3 L510.9,1222.2 L511.6,1225.2 L512.3,1228.1 L513.0,1231.0 L513.7,1234.0 L514.4,1236.9 L515.1,1239.9 L515.8,1242.8 L516.5,1245.8 L517.2,1248.7 L517.8,1251.7 L518.5,1254.6 L519.1,1257.6 L519.8,1260.5 L520.4,1263.5 L521.0,1266.4 L521.7,1269.4 L522.3,1272.4 L522.9,1275.3 L523.5,1278.3 L524.1,1281.2 L524.7,1284.2 L525.3,1287.2 L525.9,1290.2 L526.4,1293.1 L527.0,1296.1 L527.6,1299.1 L528.1,1302.0 L528.7,1305.0 L529.2,1308.0 L529.7,1311.0 L530.3,1314.0 L530.8,1316.9 L531.3,1319.9 L531.8,1322.9 L532.3,1325.9 L532.8,1328.9 L533.3,1331.9 L533.8,1334.8 L534.3,1337.8 L534.8,1340.8 L535.2,1343.8 L535.7,1346.8 L536.1,1349.8 L536.6,1352.8 L537.0,1355.8 L537.5,1358.8 L537.9,1361.8 L538.3,1364.8 L538.7,1367.8 L539.2,1370.7 L539.6,1373.7 L540.0,1376.7 L540.4,1379.7 L540.7,1382.7 L541.1,1385.7 L541.5,1388.7 L541.9,1391.7 L542.2,1394.7 L542.6,1397.8 L542.9,1400.8 L543.3,1403.8 L543.6,1406.8 L544.0,1409.8 L544.3,1412.8 L544.6,1415.8 L544.9,1418.8 L545.2,1421.8 L545.5,1424.8 L545.8,1427.8 L546.1,1430.8 L546.4,1433.8 L546.7,1436.8 L547.0,1439.8 L547.2,1442.8 L547.5,1445.9 L547.7,1448.9 L548.0,1451.9 L548.2,1454.9 L548.5,1457.9 L548.7,1460.9 L548.9,1463.9 L549.1,1466.9 L549.4,1469.9 L549.6,1472.9 L549.8,1475.9 L550.0,1479.0 L550.2,1482.0 L550.3,1485.0 L550.5,1488.0 L550.7,1491.0 L550.9,1494.0 L551.0,1497.0 L551.2,1500.0 L551.3,1503.0 L551.5,1506.0 L551.6,1509.0 L551.7,1512.0 L551.9,1515.1 L552.0,1518.1 L552.1,1521.1 L552.2,1524.1 L552.3,1527.1 L552.4,1530.1 L552.5,1533.1 L552.6,1536.1 L552.7,1539.1 L552.8,1542.1 L552.8,1545.1 L552.9,1548.1 L553.0,1551.1 L553.0,1554.1 L553.1,1557.1 L553.1,1560.1 L553.1,1563.1 L553.2,1566.1 L553.2,1569.1 L553.2,1572.1 L553.2,1575.1 L553.2,1578.1 L553.2,1581.1 L553.2,1584.1 L553.2,1587.1 L553.2,1590.1 L553.2,1593.1 L553.2,1596.1 L553.1,1599.1 L553.1,1602.0 L553.1,1605.0 L553.0,1608.0 L553.0,1611.0 L552.9,1614.0" stroke="#7cfc00" stroke-width="8.1"/>
<path d="M330.0,1032.6 L332.2,1034.7 L334.4,1036.8 L336.5,1039.0 L338.7,1041.1 L340.9,1043.3 L343.0,1045.4 L345.1,1047.6 L347.3,1049.8 L349.4,1052.0 L351.5,1054.2 L353.6,1056.4 L355.7,1058.6 L357.8,1060.8 L359.8,1063.0 L361.9,1065.2 L363.9,1067.4 L366.0,1069.6 L368.0,1071.9 L370.1,1074.1 L372.1,1076.4 L374.1,1078.6 L376.1,1080.9 L378.1,1083.1 L380.1,1085.4 L382.1,1087.7 L384.0,1090.0 L386.0,1092.2 L387.9,1094.5 L389.9,1096.8 L391.8,1099.1 L393.8,1101.4 L395.7,1103.7 L397.6,1106.0 L399.5,1108.4 L401.4,1110.7 L403.3,1113.0 L405.2,1115.3 L407.1,1117.7 L409.0,1120.0 L410.8,1122.4 L412.7,1124.7 L414.6,1127.1 L416.4,1129.4 L418.3,1131.8 L420.1,1134.1 L421.9,1136.5 L423.8,1138.9 L425.6,1141.3 L427.4,1143.7 L429.2,1146.0 L431.0,1148.4 L432.8,1150.8 L434.6,1153.2 L436.4,1155.6 L438.2,1158.0 L440.0,1160.4 L441.8,1162.9 L443.5,1165.3 L445.3,1167.7 L447.1,1170.1 L448.8,1172.5 L450.6,1175.0 L452.3,1177.4 L454.1,1179.8 L455.8,1182.3 L457.5,1184.7 L459.3,1187.2 L461.0,1189.6 L462.7,1192.1 L464.4,1194.5 L466.1,1197.0 L467.9,1199.5 L469.6,1201.9 L471.3,1204.4 L473.0,1206.9 L474.7,1209.3 L476.4,1211.8 L478.1,1214.3 L479.7,1216.8 L481.4,1219.2 L483.1,1221.7 L484.8,1224.2 L486.5,1226.7 L488.2,1229.2 L489.8,1231.7 L491.5,1234.2 L493.2,1236.7 L494.8,1239.2 L496.5,1241.7 L498.2,1244.2 L499.8,1246.7 L501.5,1249.2 L503.2,1251.7 L504.8,1254.2 L506.5,1256.8 L508.1,1259.3 L509.8,1261.8 L511.4,1264.3 L513.1,1266.8 L514.7,1269.3 L516.4,1271.9 L518.0,1274.4 L519.7,1276.9 L521.3,1279.4 L523.0,1282.0 L524.6,1284.5 L526.3,1287.0 L527.9,1289.6 L529.6,1292.1 L531.2,1294.6 L532.8,1297.2 L534.5,1299.7 L536.1,1302.2 L537.8,1304.8 L539.4,1307.3 L541.1,1309.9 L542.7,1312.4 L544.4,1314.9 L546.0,1317.5 L547.7,1320.0 L549.3,1322.6 L551.0,1325.1 L552.6,1327.6 L554.3,1330.2 L555.9,1332.7 L557.6,1335.3 L559.2,1337.8 L560.9,1340.4 L562.6,1342.9 L564.2,1345.4 L565.9,1348.0 L567.5,1350.5 L569.2,1353.1 L570.8,1355.6 L572.4,1358.2 L574.1,1360.8 L575.7,1363.3 L577.4,1365.9 L579.0,1368.4 L580.6,1371.0 L582.2,1373.6 L583.9,1376.1 L585.5,1378.7 L587.1,1381.3 L588.7,1383.8 L590.3,1386.4 L591.9,1389.0 L593.5,1391.6 L595.1,1394.1 L596.7,1396.7 L598.2,1399.3 L599.8,1401.9 L601.4,1404.5 L602.9,1407.1 L604.5,1409.7 L606.0,1412.3 L607.5,1414.9 L609.1,1417.5 L610.6,1420.1 L612.1,1422.7 L613.6,1425.3 L615.1,1428.0 L616.6,1430.6 L618.0,1433.2 L619.5,1435.9 L620.9,1438.5 L622.4,1441.1 L623.8,1443.8 L625.2,1446.4 L626.6,1449.1 L628.0,1451.7 L629.4,1454.4 L630.8,1457.1 L632.2,1459.7 L633.5,1462.4 L634.9,1465.1 L636.2,1467.8 L637.5,1470.5 L638.8,1473.2 L640.1,1475.9 L641.4,1478.6 L642.6,1481.3 L643.9,1484.0 L645.1,1486.7 L646.3,1489.4 L647.5,1492.2 L648.7,1494.9 L649.8,1497.7 L651.0,1500.4 L652.1,1503.2 L653.2,1505.9 L654.3,1508.7 L655.4,1511.5 L656.4,1514.3 L657.4,1517.0 L658.4,1519.8 L659.4,1522.6 L660.4,1525.5 L661.3,1528.3 L662.2,1531.1 L663.1,1533.9 L663.9,1536.8 L664.8,1539.6 L665.6,1542.5 L666.3,1545.4 L667.1,1548.2 L667.8,1551.1 L668.5,1554.0 L669.1,1556.9 L669.8,1559.8 L670.4,1562.8 L670.9,1565.7 L671.4,1568.6 L671.9,1571.6 L672.4,1574.5 L672.8,1577.5 L673.2,1580.5 L673.6,1583.5 L673.9,1586.5 L674.2,1589.5 L674.4,1592.5 L674.6,1595.6 L674.8,1598.6 L674.9,1601.7 L675.0,1604.7 L675.0,1607.8 L675.0,1610.9 L675.0,1614.0" stroke="#d2691e" stroke-width="8.1"/>
<path d="M330.0,1081.3 L331.0,1084.1 L332.0,1086.9 L333.1,1089.7 L334.1,1092.5 L335.1,1095.3 L336.2,1098.1 L337.2,1100.9 L338.2,1103.8 L339.3,1106.6 L340.3,1109.4 L341.4,1112.2 L342.4,1115.0 L343.5,1117.8 L344.5,1120.6 L345.6,1123.5 L346.6,1126.3 L347.7,1129.1 L348.7,1131.9 L349.8,1134.7 L350.9,1137.5 L351.9,1140.4 L353.0,1143.2 L354.0,1146.0 L355.1,1148.8 L356.2,1151.6 L357.2,1154.5 L358.3,1157.3 L359.4,1160.1 L360.4,1162.9 L361.5,1165.7 L362.6,1168.6 L363.6,1171.4 L364.7,1174.2 L365.8,1177.0 L366.8,1179.9 L367.9,1182.7 L369.0,1185.5 L370.1,1188.3 L371.1,1191.2 L372.2,1194.0 L373.2,1196.8 L374.3,1199.7 L375.4,1202.5 L376.4,1205.3 L377.5,1208.2 L378.6,1211.0 L379.6,1213.8 L380.7,1216.7 L381.7,1219.5 L382.8,1222.3 L383.9,1225.2 L384.9,1228.0 L386.0,1230.8 L387.0,1233.7 L388.1,1236.5 L389.1,1239.4 L390.1,1242.2 L391.2,1245.0 L392.2,1247.9 L393.3,1250.7 L394.3,1253.6 L395.3,1256.4 L396.3,1259.3 L397.4,1262.1 L398.4,1265.0 L399.4,1267.8 L400.4,1270.7 L401.4,1273.5 L402.5,1276.4 L403.5,1279.2 L404.5,1282.1 L405.5,1284.9 L406.5,1287.8 L407.5,1290.6 L408.4,1293.5 L409.4,1296.4 L410.4,1299.2 L411.4,1302.1 L412.4,1305.0 L413.3,1307.8 L414.3,1310.7 L415.3,1313.5 L416.2,1316.4 L417.2,1319.3 L418.1,1322.2 L419.0,1325.0 L420.0,1327.9 L420.9,1330.8 L421.8,1333.6 L422.8,1336.5 L423.7,1339.4 L424.6,1342.3 L425.5,1345.2 L426.4,1348.0 L427.3,1350.9 L428.2,1353.8 L429.1,1356.7 L429.9,1359.6 L430.8,1362.5 L431.7,1365.4 L432.5,1368.2 L433.4,1371.1 L434.2,1374.0 L435.1,1376.9 L435.9,1379.8 L436.7,1382.7 L437.6,1385.6 L438.4,1388.5 L439.2,1391.4 L440.0,1394.3 L440.8,1397.2 L441.6,1400.1 L442.3,1403.0 L443.1,1405.9 L443.9,1408.9 L444.6,1411.8 L445.4,1414.7 L446.1,1417.6 L446.8,1420.5 L447.6,1423.4 L448.3,1426.4 L449.0,1429.3 L449.7,1432.2 L450.4,1435.1 L451.1,1438.0 L451.7,1441.0 L452.4,1443.9 L453.1,1446.8 L453.7,1449.8 L454.4,1452.7 L455.0,1455.6 L455.6,1458.6 L456.2,1461.5 L456.8,1464.5 L457.4,1467.4 L458.0,1470.3 L458.6,1473.3 L459.1,1476.2 L459.7,1479.2 L460.3,1482.1 L460.8,1485.1 L461.3,1488.1 L461.8,1491.0 L462.3,1494.0 L462.8,1496.9 L463.3,1499.9 L463.8,1502.9 L464.3,1505.8 L464.7,1508.8 L465.2,1511.8 L465.6,1514.7 L466.0,1517.7 L466.4,1520.7 L466.8,1523.7 L467.2,1526.6 L467.6,1529.6 L468.0,1532.6 L468.3,1535.6 L468.7,1538.6 L469.0,1541.6 L469.3,1544.6 L469.6,1547.6 L469.9,1550.6 L470.2,1553.6 L470.5,1556.6 L470.8,1559.6 L471.0,1562.6 L471.3,1565.6 L471.5,1568.6 L471.7,1571.6 L471.9,1574.6 L472.1,1577.6 L472.3,1580.7 L472.4,1583.7 L472.6,1586.7 L472.7,1589.7 L472.8,1592.7 L472.9,1595.8 L473.0,1598.8 L473.1,1601.8 L473.2,1604.9 L473.2,1607.9 L473.3,1611.0 L473.3,1614.0" stroke="#ffdead" stroke-width="8.1"/>
<rect x="337" y="93.2" width="253" height="3.9" fill="#d3cba8" stroke="none"/>
<rect x="590" y="93.2" width="768" height="3.9" fill="#cbbd72" stroke="none"/>
<rect x="1358" y="93.2" width="9" height="3.9" fill="#d4b800" stroke="none"/>
<rect x="1367" y="93.2" width="169" height="3.9" fill="#acacac" stroke="none"/>
<rect x="1536" y="93.2" width="30" height="3.9" fill="#d0a050" stroke="none"/>
<rect x="1566" y="93.2" width="178" height="3.9" fill="#acacac" stroke="none"/>
<rect x="1744" y="93.2" width="9" height="3.9" fill="#f03030" stroke="none"/>
<rect x="1753" y="93.2" width="39" height="3.9" fill="#acacac" stroke="none"/>
<rect x="1792" y="93.2" width="394" height="3.9" fill="#dcdcdc" stroke="none"/>
<rect x="2194" y="93.2" width="188" height="3.9" fill="#dcdcdc" stroke="none"/>
<rect x="2390" y="93.2" width="17" height="3.9" fill="#dcdcdc" stroke="none"/>
</g>
<g font-family="'DejaVu Sans', 'Liberation Sans', sans-serif" font-size="53.9">
<text x="1553" y="242.5" text-anchor="end" fill="#ff8c00"><tspan>NH</tspan><tspan font-size="37.7" dy="10.8">3</tspan></text>
<text x="1798" y="242.5" text-anchor="start" fill="#999999"><tspan>H</tspan><tspan font-size="37.7" dy="10.8">2</tspan><tspan dy="-10.8">O</tspan></text>
<text x="2374" y="242.5" text-anchor="end" fill="#0000ff"><tspan>H</tspan><tspan font-size="37.7" dy="10.8">2</tspan></text>
<text x="1381" y="355" text-anchor="start" fill="#ffc400"><tspan>H</tspan><tspan font-size="37.7" dy="10.8">2</tspan><tspan dy="-10.8">S</tspan></text>
<text x="1732" y="355" text-anchor="end" fill="#ff2020"><tspan>CH</tspan><tspan font-size="37.7" dy="10.8">4</tspan></text>
<text x="601" y="354" text-anchor="start" fill="#6495ed"><tspan>P</tspan><tspan font-size="37.7" dy="10.8">4</tspan><tspan dy="-10.8">O</tspan><tspan font-size="37.7" dy="10.8">6</tspan></text>
<text x="2201" y="363.5" text-anchor="start" fill="#333333"><tspan>He</tspan></text>
<text x="0" y="0" text-anchor="middle" dominant-baseline="central" fill="#9932cc" transform="translate(1011,313.5) rotate(40)"><tspan>N2</tspan></text>
<text x="0" y="0" text-anchor="middle" dominant-baseline="central" fill="#ffc0cb" transform="translate(445.8,453.3) rotate(25)"><tspan>KCl</tspan></text>
<text x="0" y="0" text-anchor="middle" dominant-baseline="central" fill="#b8860b" transform="translate(449,661) rotate(36)"><tspan>(NaCl)</tspan><tspan font-size="37.7" dy="10.8">2</tspan></text>
<text x="0" y="0" text-anchor="middle" dominant-baseline="central" fill="#006400" transform="translate(719,799) rotate(75)"><tspan>NaCl</tspan></text>
<text x="0" y="0" text-anchor="middle" dominant-baseline="central" fill="#bdb76b" transform="translate(667,968) rotate(55)"><tspan>PH</tspan><tspan font-size="37.7" dy="10.8">3</tspan></text>
<text x="0" y="0" text-anchor="middle" dominant-baseline="central" fill="#7cfc00" transform="translate(527,1159) rotate(74)"><tspan>KOH</tspan></text>
<text x="0" y="0" text-anchor="middle" dominant-baseline="central" fill="#00ffff" transform="translate(620.3,1276.7) rotate(72)"><tspan>CO</tspan></text>
<text x="0" y="0" text-anchor="middle" dominant-baseline="central" fill="#ffdead" transform="translate(443,1288.3) rotate(77)"><tspan>K</tspan></text>
<text x="0" y="0" text-anchor="middle" dominant-baseline="central" fill="#d2691e" transform="translate(636,1401) rotate(61)"><tspan>NaH</tspan></text>
<text x="0" y="0" text-anchor="middle" dominant-baseline="central" fill="#32cd32" transform="translate(825,1277) rotate(64.5)"><tspan>Na</tspan></text>
<text x="0" y="0" text-anchor="middle" dominant-baseline="central" fill="#5f9ea0" transform="translate(819,1491) rotate(75)"><tspan>NaOH</tspan></text>
</g>
<g stroke="#000" stroke-width="7.6" fill="none" stroke-linecap="square">
<path d="M332.2,89.5 L2410.4,89.5 L2410.4,1613.9 L332.2,1613.9 Z"/>
</g>
<g stroke="#000" stroke-width="4.3">
<line x1="473.4" y1="1613.9" x2="473.4" y2="1632.8000000000002"/>
<line x1="748.6" y1="1613.9" x2="748.6" y2="1632.8000000000002"/>
<line x1="1024.2" y1="1613.9" x2="1024.2" y2="1632.8000000000002"/>
<line x1="1303.4" y1="1613.9" x2="1303.4" y2="1632.8000000000002"/>
<line x1="1578" y1="1613.9" x2="1578" y2="1632.8000000000002"/>
<line x1="1857.2" y1="1613.9" x2="1857.2" y2="1632.8000000000002"/>
<line x1="2132.5" y1="1613.9" x2="2132.5" y2="1632.8000000000002"/>
<line x1="2410.4" y1="1613.9" x2="2410.4" y2="1632.8000000000002"/>
<line x1="332.2" y1="89.5" x2="313.3" y2="89.5"/>
<line x1="332.2" y1="394.4" x2="313.3" y2="394.4"/>
<line x1="332.2" y1="699.3" x2="313.3" y2="699.3"/>
<line x1="332.2" y1="1004.1" x2="313.3" y2="1004.1"/>
<line x1="332.2" y1="1309.0" x2="313.3" y2="1309.0"/>
<line x1="332.2" y1="1613.9" x2="313.3" y2="1613.9"/>
</g>
<g font-family="'DejaVu Sans', 'Liberation Sans', sans-serif" font-size="53.9" fill="#000">
<text transform="translate(471.9,1692.6) scale(0.955,1)" text-anchor="middle">−7</text>
<text transform="translate(747.1,1692.6) scale(0.955,1)" text-anchor="middle">−6</text>
<text transform="translate(1022.7,1692.6) scale(0.955,1)" text-anchor="middle">−5</text>
<text transform="translate(1301.9,1692.6) scale(0.955,1)" text-anchor="middle">−4</text>
<text transform="translate(1576.5,1692.6) scale(0.955,1)" text-anchor="middle">−3</text>
<text transform="translate(1855.7,1692.6) scale(0.955,1)" text-anchor="middle">−2</text>
<text transform="translate(2131.0,1692.6) scale(0.955,1)" text-anchor="middle">−1</text>
<text transform="translate(2408.9,1692.6) scale(0.955,1)" text-anchor="middle">0</text>
<text transform="translate(294,111.0) scale(0.955,1)" text-anchor="end">0</text>
<text transform="translate(294,415.9) scale(0.955,1)" text-anchor="end">200</text>
<text transform="translate(294,720.8) scale(0.955,1)" text-anchor="end">400</text>
<text transform="translate(294,1025.6) scale(0.955,1)" text-anchor="end">600</text>
<text transform="translate(294,1330.5) scale(0.955,1)" text-anchor="end">800</text>
<text transform="translate(294,1635.4) scale(0.955,1)" text-anchor="end">1000</text>
</g>
<text font-family="'DejaVu Sans', 'Liberation Sans', sans-serif" font-size="67.8" x="1370" y="1790" text-anchor="middle" fill="#000">log<tspan font-size="47.5" dy="13.6">10</tspan><tspan dy="-13.6">(Mixing ratio)</tspan></text>
<text font-family="'DejaVu Sans', 'Liberation Sans', sans-serif" font-size="67.8" transform="translate(119.6,852.5) rotate(-90)" x="0" y="0" text-anchor="middle" fill="#000"><tspan font-style="italic">P</tspan> [bars]</text>
</svg>
</body></html>
